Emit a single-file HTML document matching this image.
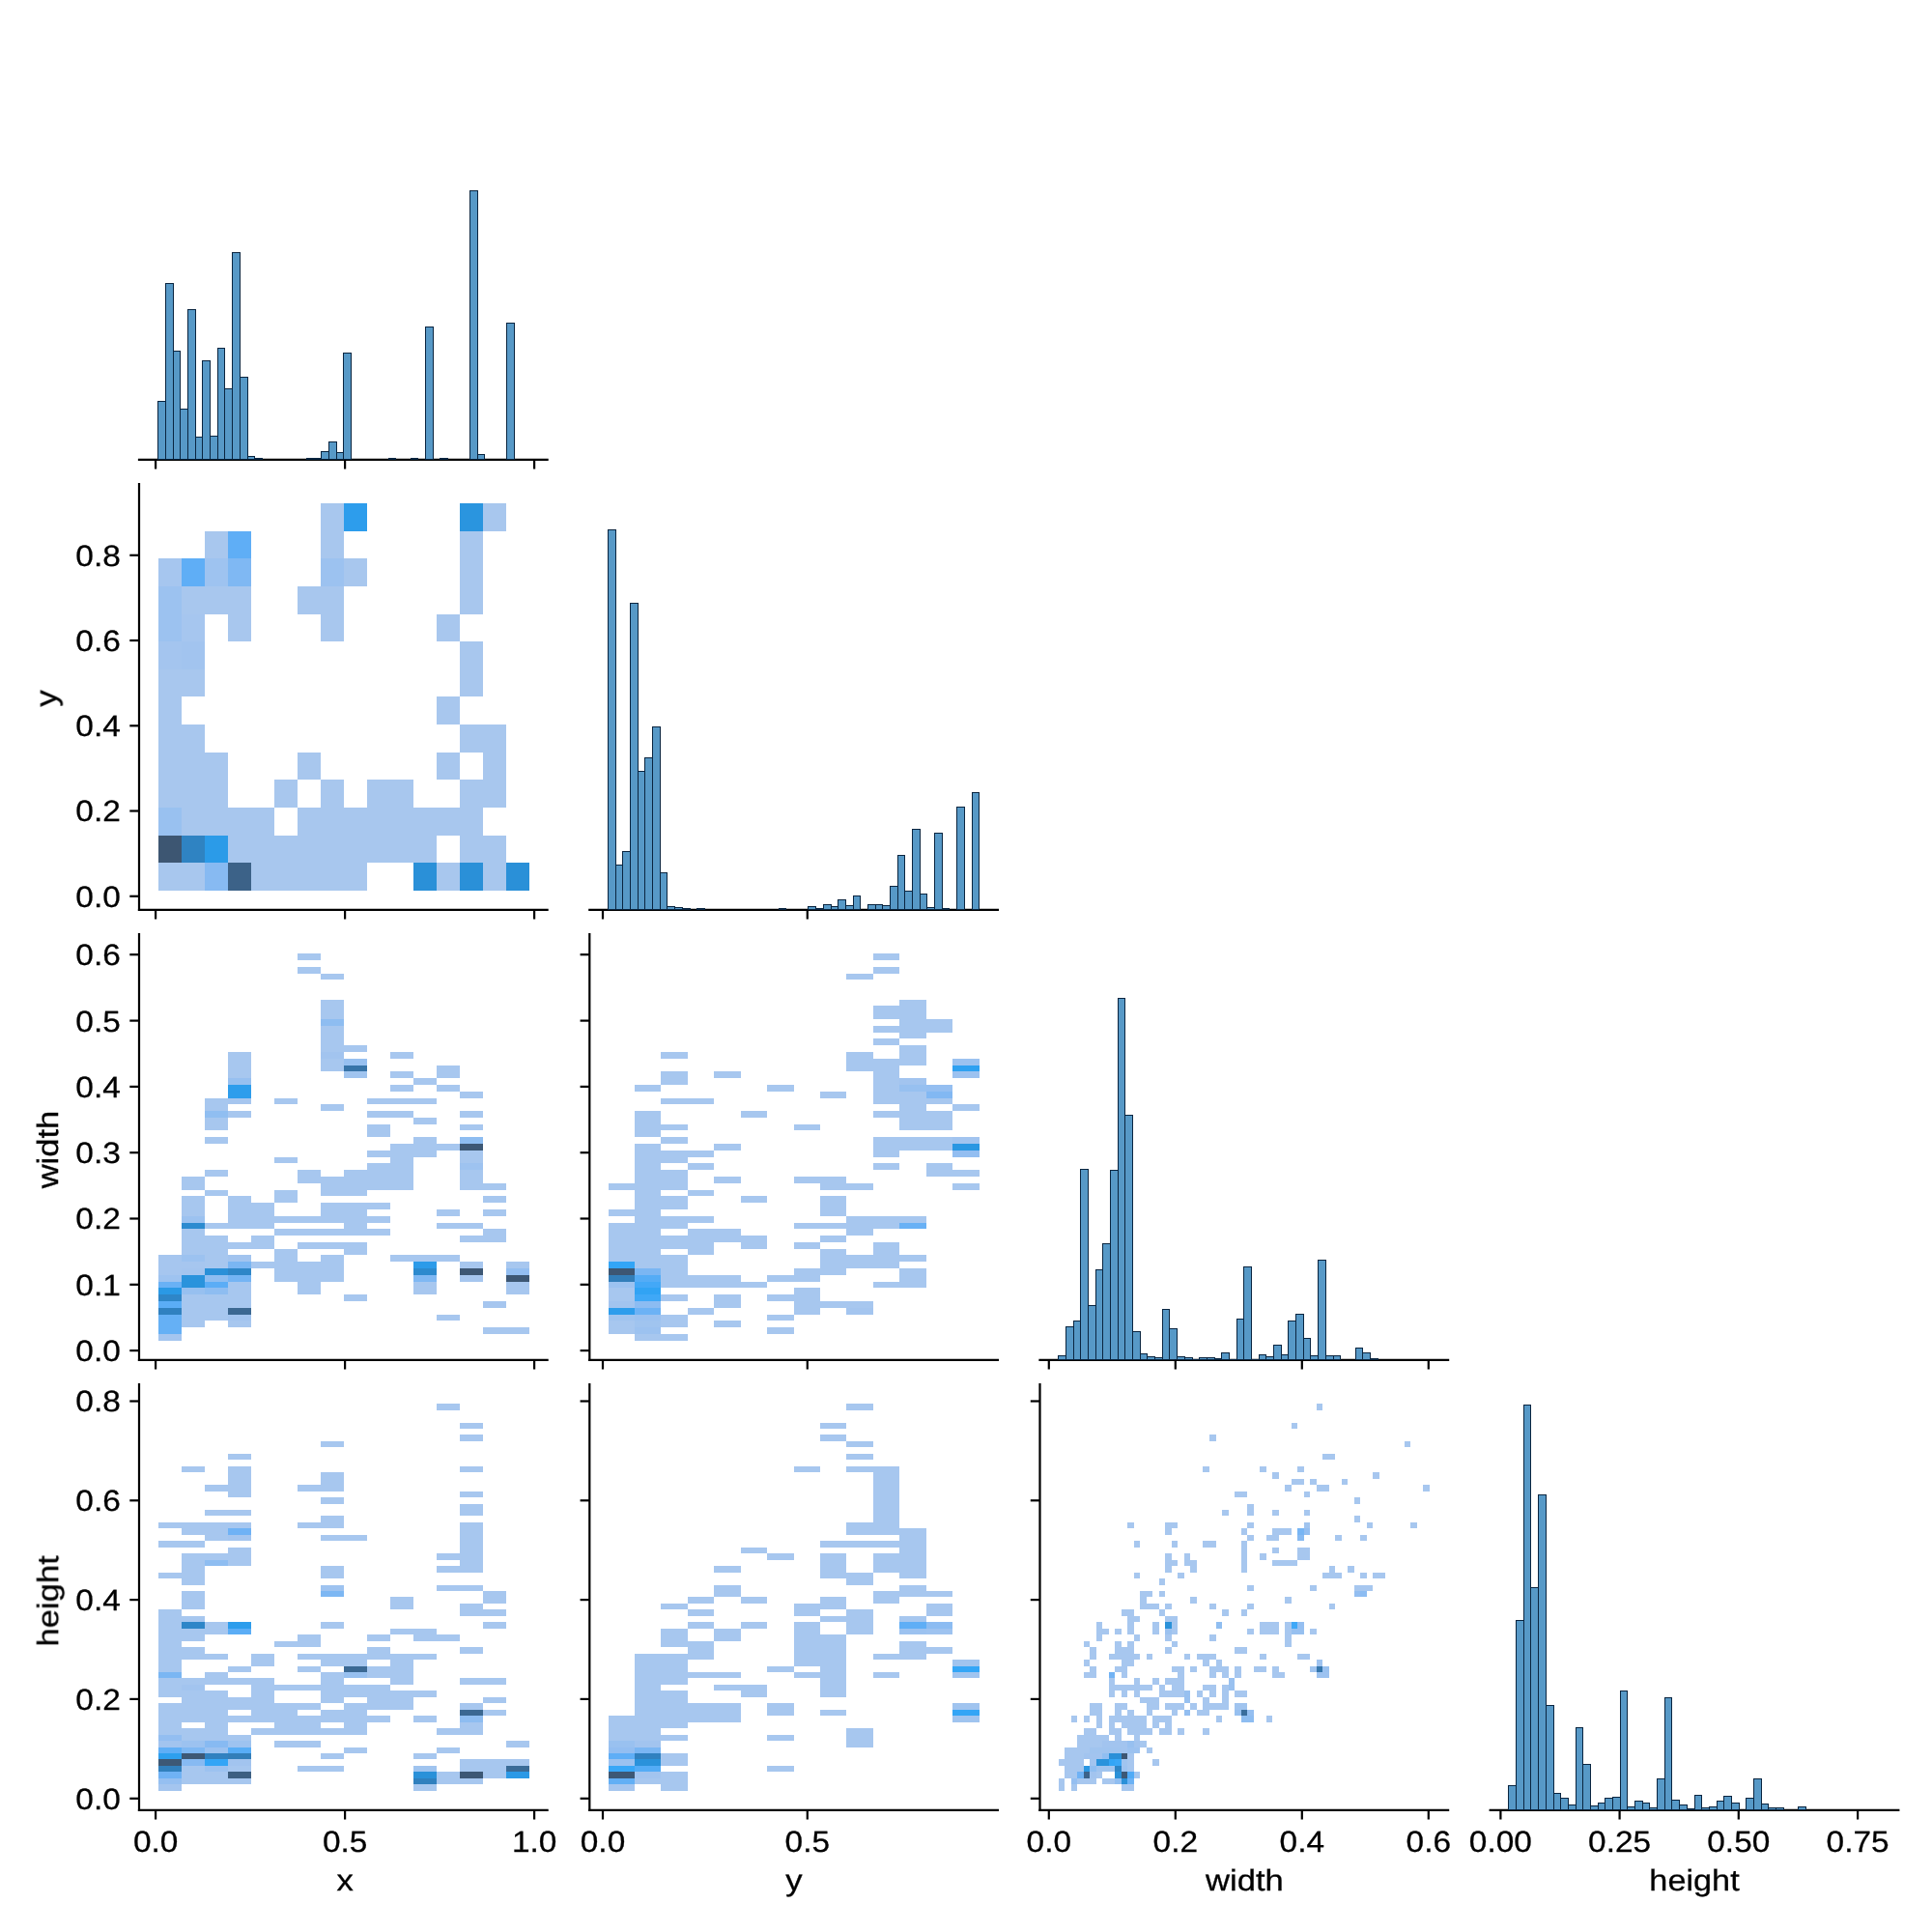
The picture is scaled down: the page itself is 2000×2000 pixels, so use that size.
<!DOCTYPE html><html><head><meta charset="utf-8"><title>pairplot</title>
<style>html,body{margin:0;padding:0;background:#fff}svg{display:block}text{font-family:"Liberation Sans",sans-serif;fill:#000;stroke:#000;stroke-width:0.3px;text-rendering:geometricPrecision}</style></head><body>
<svg xmlns="http://www.w3.org/2000/svg" width="2000" height="2000" viewBox="0 0 2000 2000">
<rect width="2000" height="2000" fill="#fff"/>
<g shape-rendering="crispEdges">
<rect x="163.81" y="893.15" width="24.01" height="28.62" fill="#a8c7ee"/>
<rect x="163.81" y="864.53" width="24.01" height="28.62" fill="#3d5672"/>
<rect x="163.81" y="835.92" width="24.01" height="28.62" fill="#99c1f0"/>
<rect x="163.81" y="692.83" width="24.01" height="143.08" fill="#a8c7ee"/>
<rect x="163.81" y="664.22" width="24.01" height="28.62" fill="#a4c5ef"/>
<rect x="163.81" y="606.98" width="24.01" height="57.23" fill="#9cc2f0"/>
<rect x="163.81" y="578.37" width="24.01" height="28.62" fill="#a6c6ef"/>
<rect x="187.82" y="893.15" width="24.01" height="28.62" fill="#a8c7ee"/>
<rect x="187.82" y="864.53" width="24.01" height="28.62" fill="#2f83c2"/>
<rect x="187.82" y="750.07" width="24.01" height="114.47" fill="#a8c7ee"/>
<rect x="187.82" y="692.83" width="24.01" height="28.62" fill="#a8c7ee"/>
<rect x="187.82" y="664.22" width="24.01" height="28.62" fill="#a2c4ef"/>
<rect x="187.82" y="635.60" width="24.01" height="28.62" fill="#a6c6ef"/>
<rect x="187.82" y="606.98" width="24.01" height="28.62" fill="#a8c7ee"/>
<rect x="187.82" y="578.37" width="24.01" height="28.62" fill="#5faef6"/>
<rect x="211.83" y="893.15" width="24.01" height="28.62" fill="#87baf2"/>
<rect x="211.83" y="864.53" width="24.01" height="28.62" fill="#2b9be8"/>
<rect x="211.83" y="778.68" width="24.01" height="85.85" fill="#a8c7ee"/>
<rect x="211.83" y="606.98" width="24.01" height="28.62" fill="#a8c7ee"/>
<rect x="211.83" y="578.37" width="24.01" height="28.62" fill="#9ec3f0"/>
<rect x="211.83" y="549.75" width="24.01" height="28.62" fill="#a8c7ee"/>
<rect x="235.84" y="893.15" width="24.01" height="28.62" fill="#3c6288"/>
<rect x="235.84" y="835.92" width="24.01" height="57.23" fill="#a8c7ee"/>
<rect x="235.84" y="606.98" width="24.01" height="57.23" fill="#a8c7ee"/>
<rect x="235.84" y="578.37" width="24.01" height="28.62" fill="#7fb8f3"/>
<rect x="235.84" y="549.75" width="24.01" height="28.62" fill="#5faef6"/>
<rect x="259.85" y="835.92" width="24.01" height="85.85" fill="#a8c7ee"/>
<rect x="283.87" y="864.53" width="24.01" height="57.23" fill="#a8c7ee"/>
<rect x="283.87" y="807.30" width="24.01" height="28.62" fill="#a8c7ee"/>
<rect x="307.88" y="835.92" width="24.01" height="85.85" fill="#a8c7ee"/>
<rect x="307.88" y="778.68" width="24.01" height="28.62" fill="#a8c7ee"/>
<rect x="307.88" y="606.98" width="24.01" height="28.62" fill="#a8c7ee"/>
<rect x="331.89" y="807.30" width="24.01" height="114.47" fill="#a8c7ee"/>
<rect x="331.89" y="606.98" width="24.01" height="57.23" fill="#a8c7ee"/>
<rect x="331.89" y="578.37" width="24.01" height="28.62" fill="#9cc2f0"/>
<rect x="331.89" y="521.13" width="24.01" height="57.23" fill="#a8c7ee"/>
<rect x="355.90" y="835.92" width="24.01" height="85.85" fill="#a8c7ee"/>
<rect x="355.90" y="578.37" width="24.01" height="28.62" fill="#a8c7ee"/>
<rect x="355.90" y="521.13" width="24.01" height="28.62" fill="#2d9dec"/>
<rect x="379.91" y="807.30" width="24.01" height="85.85" fill="#a8c7ee"/>
<rect x="403.92" y="807.30" width="24.01" height="85.85" fill="#a8c7ee"/>
<rect x="427.93" y="893.15" width="24.01" height="28.62" fill="#2a90d8"/>
<rect x="427.93" y="835.92" width="24.01" height="57.23" fill="#a8c7ee"/>
<rect x="451.95" y="893.15" width="24.01" height="28.62" fill="#a8c7ee"/>
<rect x="451.95" y="835.92" width="24.01" height="28.62" fill="#a8c7ee"/>
<rect x="451.95" y="778.68" width="24.01" height="28.62" fill="#a8c7ee"/>
<rect x="451.95" y="721.45" width="24.01" height="28.62" fill="#a8c7ee"/>
<rect x="451.95" y="635.60" width="24.01" height="28.62" fill="#a8c7ee"/>
<rect x="475.96" y="893.15" width="24.01" height="28.62" fill="#2a90d8"/>
<rect x="475.96" y="807.30" width="24.01" height="85.85" fill="#a8c7ee"/>
<rect x="475.96" y="750.07" width="24.01" height="28.62" fill="#a8c7ee"/>
<rect x="475.96" y="664.22" width="24.01" height="57.23" fill="#a8c7ee"/>
<rect x="475.96" y="549.75" width="24.01" height="85.85" fill="#a8c7ee"/>
<rect x="475.96" y="521.13" width="24.01" height="28.62" fill="#2a95df"/>
<rect x="499.97" y="864.53" width="24.01" height="57.23" fill="#a8c7ee"/>
<rect x="499.97" y="750.07" width="24.01" height="85.85" fill="#a8c7ee"/>
<rect x="499.97" y="521.13" width="24.01" height="28.62" fill="#a8c7ee"/>
<rect x="523.98" y="893.15" width="24.01" height="28.62" fill="#2a90d8"/>
<rect x="163.81" y="1380.98" width="24.01" height="6.79" fill="#a4c5ef"/>
<rect x="163.81" y="1360.61" width="24.01" height="20.37" fill="#65b0f5"/>
<rect x="163.81" y="1353.82" width="24.01" height="6.79" fill="#3081c0"/>
<rect x="163.81" y="1347.03" width="24.01" height="6.79" fill="#5badf6"/>
<rect x="163.81" y="1340.24" width="24.01" height="6.79" fill="#2e86c8"/>
<rect x="163.81" y="1333.44" width="24.01" height="6.79" fill="#2a99e5"/>
<rect x="163.81" y="1326.65" width="24.01" height="6.79" fill="#69b1f5"/>
<rect x="163.81" y="1319.86" width="24.01" height="6.79" fill="#9ec3f0"/>
<rect x="163.81" y="1299.49" width="24.01" height="20.37" fill="#a6c6ef"/>
<rect x="187.82" y="1340.24" width="24.01" height="33.95" fill="#a7c7ef"/>
<rect x="187.82" y="1333.44" width="24.01" height="6.79" fill="#97c0f0"/>
<rect x="187.82" y="1319.86" width="24.01" height="13.58" fill="#2a93dc"/>
<rect x="187.82" y="1313.07" width="24.01" height="6.79" fill="#a4c5ef"/>
<rect x="187.82" y="1306.28" width="24.01" height="6.79" fill="#a6c6ef"/>
<rect x="187.82" y="1299.49" width="24.01" height="6.79" fill="#9cc2f0"/>
<rect x="187.82" y="1272.33" width="24.01" height="27.16" fill="#a7c7ef"/>
<rect x="187.82" y="1265.54" width="24.01" height="6.79" fill="#2c8bd0"/>
<rect x="187.82" y="1258.75" width="24.01" height="6.79" fill="#9cc2f0"/>
<rect x="187.82" y="1238.38" width="24.01" height="20.37" fill="#a7c7ef"/>
<rect x="187.82" y="1218.01" width="24.01" height="13.58" fill="#a7c7ef"/>
<rect x="211.83" y="1340.24" width="24.01" height="27.16" fill="#a7c7ef"/>
<rect x="211.83" y="1333.44" width="24.01" height="6.79" fill="#8ebdf1"/>
<rect x="211.83" y="1326.65" width="24.01" height="6.79" fill="#5badf6"/>
<rect x="211.83" y="1319.86" width="24.01" height="6.79" fill="#8ebdf1"/>
<rect x="211.83" y="1313.07" width="24.01" height="6.79" fill="#2a90d8"/>
<rect x="211.83" y="1279.12" width="24.01" height="33.95" fill="#a7c7ef"/>
<rect x="211.83" y="1265.54" width="24.01" height="6.79" fill="#a7c7ef"/>
<rect x="211.83" y="1231.59" width="24.01" height="6.79" fill="#a7c7ef"/>
<rect x="211.83" y="1211.22" width="24.01" height="6.79" fill="#a7c7ef"/>
<rect x="211.83" y="1177.26" width="24.01" height="6.79" fill="#a7c7ef"/>
<rect x="211.83" y="1156.89" width="24.01" height="13.58" fill="#a7c7ef"/>
<rect x="211.83" y="1150.10" width="24.01" height="6.79" fill="#90bef1"/>
<rect x="211.83" y="1136.52" width="24.01" height="13.58" fill="#a7c7ef"/>
<rect x="235.84" y="1367.40" width="24.01" height="6.79" fill="#a7c7ef"/>
<rect x="235.84" y="1360.61" width="24.01" height="6.79" fill="#a2c4ef"/>
<rect x="235.84" y="1353.82" width="24.01" height="6.79" fill="#3b6892"/>
<rect x="235.84" y="1326.65" width="24.01" height="27.16" fill="#a7c7ef"/>
<rect x="235.84" y="1319.86" width="24.01" height="6.79" fill="#74b4f4"/>
<rect x="235.84" y="1313.07" width="24.01" height="6.79" fill="#2e86c8"/>
<rect x="235.84" y="1306.28" width="24.01" height="6.79" fill="#7ab6f3"/>
<rect x="235.84" y="1299.49" width="24.01" height="6.79" fill="#a2c4ef"/>
<rect x="235.84" y="1285.91" width="24.01" height="6.79" fill="#a7c7ef"/>
<rect x="235.84" y="1238.38" width="24.01" height="33.95" fill="#a7c7ef"/>
<rect x="235.84" y="1150.10" width="24.01" height="6.79" fill="#a7c7ef"/>
<rect x="235.84" y="1136.52" width="24.01" height="6.79" fill="#a6c6ef"/>
<rect x="235.84" y="1122.94" width="24.01" height="13.58" fill="#2d9dec"/>
<rect x="235.84" y="1116.15" width="24.01" height="6.79" fill="#97c0f0"/>
<rect x="235.84" y="1088.99" width="24.01" height="27.16" fill="#a7c7ef"/>
<rect x="259.85" y="1306.28" width="24.01" height="6.79" fill="#a7c7ef"/>
<rect x="259.85" y="1279.12" width="24.01" height="13.58" fill="#a7c7ef"/>
<rect x="259.85" y="1245.17" width="24.01" height="27.16" fill="#a7c7ef"/>
<rect x="283.87" y="1292.70" width="24.01" height="33.95" fill="#a7c7ef"/>
<rect x="283.87" y="1272.33" width="24.01" height="6.79" fill="#a7c7ef"/>
<rect x="283.87" y="1258.75" width="24.01" height="6.79" fill="#a7c7ef"/>
<rect x="283.87" y="1231.59" width="24.01" height="13.58" fill="#a7c7ef"/>
<rect x="283.87" y="1197.64" width="24.01" height="6.79" fill="#a7c7ef"/>
<rect x="283.87" y="1136.52" width="24.01" height="6.79" fill="#a7c7ef"/>
<rect x="307.88" y="1306.28" width="24.01" height="33.95" fill="#a7c7ef"/>
<rect x="307.88" y="1285.91" width="24.01" height="6.79" fill="#a7c7ef"/>
<rect x="307.88" y="1272.33" width="24.01" height="6.79" fill="#a7c7ef"/>
<rect x="307.88" y="1258.75" width="24.01" height="6.79" fill="#a7c7ef"/>
<rect x="307.88" y="1211.22" width="24.01" height="13.58" fill="#a7c7ef"/>
<rect x="307.88" y="1000.71" width="24.01" height="6.79" fill="#a7c7ef"/>
<rect x="307.88" y="987.13" width="24.01" height="6.79" fill="#a7c7ef"/>
<rect x="331.89" y="1299.49" width="24.01" height="27.16" fill="#a7c7ef"/>
<rect x="331.89" y="1285.91" width="24.01" height="6.79" fill="#a7c7ef"/>
<rect x="331.89" y="1272.33" width="24.01" height="6.79" fill="#a7c7ef"/>
<rect x="331.89" y="1245.17" width="24.01" height="20.37" fill="#a7c7ef"/>
<rect x="331.89" y="1218.01" width="24.01" height="20.37" fill="#a7c7ef"/>
<rect x="331.89" y="1143.31" width="24.01" height="6.79" fill="#a7c7ef"/>
<rect x="331.89" y="1095.78" width="24.01" height="13.58" fill="#a7c7ef"/>
<rect x="331.89" y="1088.99" width="24.01" height="6.79" fill="#a2c4ef"/>
<rect x="331.89" y="1061.83" width="24.01" height="27.16" fill="#a7c7ef"/>
<rect x="331.89" y="1055.04" width="24.01" height="6.79" fill="#8ebdf1"/>
<rect x="331.89" y="1034.66" width="24.01" height="20.37" fill="#a7c7ef"/>
<rect x="331.89" y="1007.50" width="24.01" height="6.79" fill="#a7c7ef"/>
<rect x="355.90" y="1340.24" width="24.01" height="6.79" fill="#a7c7ef"/>
<rect x="355.90" y="1285.91" width="24.01" height="13.58" fill="#a7c7ef"/>
<rect x="355.90" y="1245.17" width="24.01" height="33.95" fill="#a7c7ef"/>
<rect x="355.90" y="1211.22" width="24.01" height="27.16" fill="#a7c7ef"/>
<rect x="355.90" y="1109.36" width="24.01" height="6.79" fill="#a0c4ef"/>
<rect x="355.90" y="1102.57" width="24.01" height="6.79" fill="#3774a8"/>
<rect x="355.90" y="1095.78" width="24.01" height="6.79" fill="#97c0f0"/>
<rect x="355.90" y="1082.20" width="24.01" height="6.79" fill="#a7c7ef"/>
<rect x="379.91" y="1272.33" width="24.01" height="6.79" fill="#a7c7ef"/>
<rect x="379.91" y="1258.75" width="24.01" height="6.79" fill="#a7c7ef"/>
<rect x="379.91" y="1245.17" width="24.01" height="6.79" fill="#a7c7ef"/>
<rect x="379.91" y="1204.43" width="24.01" height="27.16" fill="#a7c7ef"/>
<rect x="379.91" y="1190.85" width="24.01" height="6.79" fill="#a7c7ef"/>
<rect x="379.91" y="1163.68" width="24.01" height="13.58" fill="#a7c7ef"/>
<rect x="379.91" y="1150.10" width="24.01" height="6.79" fill="#a7c7ef"/>
<rect x="379.91" y="1136.52" width="24.01" height="6.79" fill="#a7c7ef"/>
<rect x="403.92" y="1299.49" width="24.01" height="6.79" fill="#a7c7ef"/>
<rect x="403.92" y="1184.05" width="24.01" height="47.53" fill="#a7c7ef"/>
<rect x="403.92" y="1150.10" width="24.01" height="6.79" fill="#a7c7ef"/>
<rect x="403.92" y="1136.52" width="24.01" height="6.79" fill="#a7c7ef"/>
<rect x="403.92" y="1122.94" width="24.01" height="6.79" fill="#a7c7ef"/>
<rect x="403.92" y="1109.36" width="24.01" height="6.79" fill="#a7c7ef"/>
<rect x="403.92" y="1088.99" width="24.01" height="6.79" fill="#a7c7ef"/>
<rect x="427.93" y="1326.65" width="24.01" height="13.58" fill="#a7c7ef"/>
<rect x="427.93" y="1319.86" width="24.01" height="6.79" fill="#7fb8f3"/>
<rect x="427.93" y="1313.07" width="24.01" height="6.79" fill="#2c8ace"/>
<rect x="427.93" y="1306.28" width="24.01" height="6.79" fill="#2c9be9"/>
<rect x="427.93" y="1299.49" width="24.01" height="6.79" fill="#a7c7ef"/>
<rect x="427.93" y="1177.26" width="24.01" height="20.37" fill="#a7c7ef"/>
<rect x="427.93" y="1156.89" width="24.01" height="6.79" fill="#a7c7ef"/>
<rect x="427.93" y="1136.52" width="24.01" height="6.79" fill="#a7c7ef"/>
<rect x="427.93" y="1116.15" width="24.01" height="6.79" fill="#a7c7ef"/>
<rect x="451.95" y="1360.61" width="24.01" height="6.79" fill="#a7c7ef"/>
<rect x="451.95" y="1299.49" width="24.01" height="6.79" fill="#a7c7ef"/>
<rect x="451.95" y="1265.54" width="24.01" height="6.79" fill="#a7c7ef"/>
<rect x="451.95" y="1251.96" width="24.01" height="6.79" fill="#a7c7ef"/>
<rect x="451.95" y="1184.05" width="24.01" height="6.79" fill="#a7c7ef"/>
<rect x="451.95" y="1122.94" width="24.01" height="6.79" fill="#a7c7ef"/>
<rect x="451.95" y="1102.57" width="24.01" height="13.58" fill="#a7c7ef"/>
<rect x="475.96" y="1319.86" width="24.01" height="6.79" fill="#a6c6ef"/>
<rect x="475.96" y="1313.07" width="24.01" height="6.79" fill="#3d5774"/>
<rect x="475.96" y="1306.28" width="24.01" height="6.79" fill="#a7c7ef"/>
<rect x="475.96" y="1279.12" width="24.01" height="6.79" fill="#a7c7ef"/>
<rect x="475.96" y="1265.54" width="24.01" height="6.79" fill="#a7c7ef"/>
<rect x="475.96" y="1211.22" width="24.01" height="20.37" fill="#a7c7ef"/>
<rect x="475.96" y="1204.43" width="24.01" height="6.79" fill="#9ec3f0"/>
<rect x="475.96" y="1190.85" width="24.01" height="13.58" fill="#a7c7ef"/>
<rect x="475.96" y="1184.05" width="24.01" height="6.79" fill="#3d5875"/>
<rect x="475.96" y="1177.26" width="24.01" height="6.79" fill="#8ebdf1"/>
<rect x="475.96" y="1163.68" width="24.01" height="6.79" fill="#a7c7ef"/>
<rect x="475.96" y="1150.10" width="24.01" height="6.79" fill="#a7c7ef"/>
<rect x="475.96" y="1129.73" width="24.01" height="6.79" fill="#a7c7ef"/>
<rect x="499.97" y="1374.19" width="24.01" height="6.79" fill="#a7c7ef"/>
<rect x="499.97" y="1347.03" width="24.01" height="6.79" fill="#a6c6ef"/>
<rect x="499.97" y="1272.33" width="24.01" height="13.58" fill="#a7c7ef"/>
<rect x="499.97" y="1251.96" width="24.01" height="6.79" fill="#a7c7ef"/>
<rect x="499.97" y="1238.38" width="24.01" height="6.79" fill="#a7c7ef"/>
<rect x="499.97" y="1224.80" width="24.01" height="6.79" fill="#a7c7ef"/>
<rect x="523.98" y="1374.19" width="24.01" height="6.79" fill="#a7c7ef"/>
<rect x="523.98" y="1326.65" width="24.01" height="13.58" fill="#a7c7ef"/>
<rect x="523.98" y="1319.86" width="24.01" height="6.79" fill="#3d5774"/>
<rect x="523.98" y="1313.07" width="24.01" height="6.79" fill="#93bef1"/>
<rect x="523.98" y="1306.28" width="24.01" height="6.79" fill="#a7c7ef"/>
<rect x="629.51" y="1367.40" width="27.44" height="13.58" fill="#a7c7ef"/>
<rect x="629.51" y="1360.61" width="27.44" height="6.79" fill="#a0c4ef"/>
<rect x="629.51" y="1353.82" width="27.44" height="6.79" fill="#2d9dec"/>
<rect x="629.51" y="1347.03" width="27.44" height="6.79" fill="#a2c4ef"/>
<rect x="629.51" y="1333.44" width="27.44" height="13.58" fill="#a7c7ef"/>
<rect x="629.51" y="1326.65" width="27.44" height="6.79" fill="#9cc2f0"/>
<rect x="629.51" y="1319.86" width="27.44" height="6.79" fill="#327eb9"/>
<rect x="629.51" y="1313.07" width="27.44" height="6.79" fill="#3d5672"/>
<rect x="629.51" y="1306.28" width="27.44" height="6.79" fill="#33a5f6"/>
<rect x="629.51" y="1265.54" width="27.44" height="40.74" fill="#a7c7ef"/>
<rect x="629.51" y="1251.96" width="27.44" height="6.79" fill="#a7c7ef"/>
<rect x="629.51" y="1224.80" width="27.44" height="6.79" fill="#a7c7ef"/>
<rect x="656.95" y="1380.98" width="27.44" height="6.79" fill="#a7c7ef"/>
<rect x="656.95" y="1374.19" width="27.44" height="6.79" fill="#9cc2f0"/>
<rect x="656.95" y="1367.40" width="27.44" height="6.79" fill="#a0c4ef"/>
<rect x="656.95" y="1360.61" width="27.44" height="6.79" fill="#9cc2f0"/>
<rect x="656.95" y="1353.82" width="27.44" height="6.79" fill="#6cb2f5"/>
<rect x="656.95" y="1347.03" width="27.44" height="6.79" fill="#8cbcf2"/>
<rect x="656.95" y="1340.24" width="27.44" height="6.79" fill="#3fa8f7"/>
<rect x="656.95" y="1333.44" width="27.44" height="6.79" fill="#31a3f4"/>
<rect x="656.95" y="1326.65" width="27.44" height="6.79" fill="#43a8f7"/>
<rect x="656.95" y="1319.86" width="27.44" height="6.79" fill="#54acf6"/>
<rect x="656.95" y="1313.07" width="27.44" height="6.79" fill="#7ab6f3"/>
<rect x="656.95" y="1184.05" width="27.44" height="129.02" fill="#a7c7ef"/>
<rect x="656.95" y="1150.10" width="27.44" height="27.16" fill="#a7c7ef"/>
<rect x="656.95" y="1122.94" width="27.44" height="6.79" fill="#a7c7ef"/>
<rect x="684.39" y="1380.98" width="27.44" height="6.79" fill="#a7c7ef"/>
<rect x="684.39" y="1360.61" width="27.44" height="13.58" fill="#a7c7ef"/>
<rect x="684.39" y="1340.24" width="27.44" height="6.79" fill="#a7c7ef"/>
<rect x="684.39" y="1299.49" width="27.44" height="33.95" fill="#a7c7ef"/>
<rect x="684.39" y="1279.12" width="27.44" height="13.58" fill="#a7c7ef"/>
<rect x="684.39" y="1258.75" width="27.44" height="13.58" fill="#a7c7ef"/>
<rect x="684.39" y="1238.38" width="27.44" height="13.58" fill="#a7c7ef"/>
<rect x="684.39" y="1211.22" width="27.44" height="20.37" fill="#a7c7ef"/>
<rect x="684.39" y="1190.85" width="27.44" height="13.58" fill="#a7c7ef"/>
<rect x="684.39" y="1177.26" width="27.44" height="6.79" fill="#a7c7ef"/>
<rect x="684.39" y="1163.68" width="27.44" height="6.79" fill="#a7c7ef"/>
<rect x="684.39" y="1136.52" width="27.44" height="6.79" fill="#a7c7ef"/>
<rect x="684.39" y="1109.36" width="27.44" height="13.58" fill="#a7c7ef"/>
<rect x="684.39" y="1088.99" width="27.44" height="6.79" fill="#a7c7ef"/>
<rect x="711.83" y="1353.82" width="27.44" height="6.79" fill="#a7c7ef"/>
<rect x="711.83" y="1319.86" width="27.44" height="13.58" fill="#a7c7ef"/>
<rect x="711.83" y="1272.33" width="27.44" height="27.16" fill="#a7c7ef"/>
<rect x="711.83" y="1258.75" width="27.44" height="6.79" fill="#a7c7ef"/>
<rect x="711.83" y="1231.59" width="27.44" height="6.79" fill="#a7c7ef"/>
<rect x="711.83" y="1204.43" width="27.44" height="6.79" fill="#a7c7ef"/>
<rect x="711.83" y="1190.85" width="27.44" height="6.79" fill="#a7c7ef"/>
<rect x="711.83" y="1136.52" width="27.44" height="6.79" fill="#a7c7ef"/>
<rect x="739.28" y="1367.40" width="27.44" height="6.79" fill="#a7c7ef"/>
<rect x="739.28" y="1340.24" width="27.44" height="13.58" fill="#a7c7ef"/>
<rect x="739.28" y="1319.86" width="27.44" height="13.58" fill="#a7c7ef"/>
<rect x="739.28" y="1272.33" width="27.44" height="13.58" fill="#a7c7ef"/>
<rect x="739.28" y="1218.01" width="27.44" height="6.79" fill="#a7c7ef"/>
<rect x="739.28" y="1184.05" width="27.44" height="6.79" fill="#a7c7ef"/>
<rect x="739.28" y="1109.36" width="27.44" height="6.79" fill="#a7c7ef"/>
<rect x="766.72" y="1326.65" width="27.44" height="6.79" fill="#a7c7ef"/>
<rect x="766.72" y="1279.12" width="27.44" height="13.58" fill="#a7c7ef"/>
<rect x="766.72" y="1238.38" width="27.44" height="6.79" fill="#a7c7ef"/>
<rect x="766.72" y="1150.10" width="27.44" height="6.79" fill="#a7c7ef"/>
<rect x="794.16" y="1374.19" width="27.44" height="6.79" fill="#a7c7ef"/>
<rect x="794.16" y="1360.61" width="27.44" height="6.79" fill="#a7c7ef"/>
<rect x="794.16" y="1340.24" width="27.44" height="6.79" fill="#a7c7ef"/>
<rect x="794.16" y="1319.86" width="27.44" height="6.79" fill="#a7c7ef"/>
<rect x="794.16" y="1122.94" width="27.44" height="6.79" fill="#a7c7ef"/>
<rect x="821.60" y="1333.44" width="27.44" height="27.16" fill="#a7c7ef"/>
<rect x="821.60" y="1313.07" width="27.44" height="13.58" fill="#a7c7ef"/>
<rect x="821.60" y="1285.91" width="27.44" height="6.79" fill="#a7c7ef"/>
<rect x="821.60" y="1265.54" width="27.44" height="6.79" fill="#a7c7ef"/>
<rect x="821.60" y="1218.01" width="27.44" height="6.79" fill="#a7c7ef"/>
<rect x="821.60" y="1163.68" width="27.44" height="6.79" fill="#a7c7ef"/>
<rect x="849.04" y="1347.03" width="27.44" height="6.79" fill="#a7c7ef"/>
<rect x="849.04" y="1292.70" width="27.44" height="27.16" fill="#a7c7ef"/>
<rect x="849.04" y="1279.12" width="27.44" height="6.79" fill="#a7c7ef"/>
<rect x="849.04" y="1265.54" width="27.44" height="6.79" fill="#a7c7ef"/>
<rect x="849.04" y="1238.38" width="27.44" height="20.37" fill="#a7c7ef"/>
<rect x="849.04" y="1218.01" width="27.44" height="13.58" fill="#a7c7ef"/>
<rect x="849.04" y="1129.73" width="27.44" height="6.79" fill="#a7c7ef"/>
<rect x="876.48" y="1353.82" width="27.44" height="6.79" fill="#a4c5ef"/>
<rect x="876.48" y="1347.03" width="27.44" height="6.79" fill="#a7c7ef"/>
<rect x="876.48" y="1299.49" width="27.44" height="13.58" fill="#a7c7ef"/>
<rect x="876.48" y="1258.75" width="27.44" height="20.37" fill="#a7c7ef"/>
<rect x="876.48" y="1224.80" width="27.44" height="6.79" fill="#a7c7ef"/>
<rect x="876.48" y="1088.99" width="27.44" height="20.37" fill="#a7c7ef"/>
<rect x="876.48" y="1007.50" width="27.44" height="6.79" fill="#a7c7ef"/>
<rect x="903.92" y="1326.65" width="27.44" height="6.79" fill="#a7c7ef"/>
<rect x="903.92" y="1285.91" width="27.44" height="27.16" fill="#a7c7ef"/>
<rect x="903.92" y="1258.75" width="27.44" height="13.58" fill="#a7c7ef"/>
<rect x="903.92" y="1204.43" width="27.44" height="6.79" fill="#a7c7ef"/>
<rect x="903.92" y="1177.26" width="27.44" height="20.37" fill="#a7c7ef"/>
<rect x="903.92" y="1150.10" width="27.44" height="6.79" fill="#a7c7ef"/>
<rect x="903.92" y="1095.78" width="27.44" height="47.53" fill="#a7c7ef"/>
<rect x="903.92" y="1075.41" width="27.44" height="6.79" fill="#a7c7ef"/>
<rect x="903.92" y="1061.83" width="27.44" height="6.79" fill="#a7c7ef"/>
<rect x="903.92" y="1041.46" width="27.44" height="13.58" fill="#a7c7ef"/>
<rect x="903.92" y="1000.71" width="27.44" height="6.79" fill="#a7c7ef"/>
<rect x="903.92" y="987.13" width="27.44" height="6.79" fill="#a7c7ef"/>
<rect x="931.37" y="1313.07" width="27.44" height="20.37" fill="#a7c7ef"/>
<rect x="931.37" y="1299.49" width="27.44" height="6.79" fill="#a7c7ef"/>
<rect x="931.37" y="1265.54" width="27.44" height="6.79" fill="#69b1f5"/>
<rect x="931.37" y="1258.75" width="27.44" height="6.79" fill="#a7c7ef"/>
<rect x="931.37" y="1177.26" width="27.44" height="13.58" fill="#a7c7ef"/>
<rect x="931.37" y="1129.73" width="27.44" height="40.74" fill="#a7c7ef"/>
<rect x="931.37" y="1122.94" width="27.44" height="6.79" fill="#97c0f0"/>
<rect x="931.37" y="1116.15" width="27.44" height="6.79" fill="#a2c4ef"/>
<rect x="931.37" y="1082.20" width="27.44" height="20.37" fill="#a7c7ef"/>
<rect x="931.37" y="1034.66" width="27.44" height="40.74" fill="#a7c7ef"/>
<rect x="958.81" y="1204.43" width="27.44" height="13.58" fill="#a7c7ef"/>
<rect x="958.81" y="1177.26" width="27.44" height="13.58" fill="#a7c7ef"/>
<rect x="958.81" y="1150.10" width="27.44" height="20.37" fill="#a7c7ef"/>
<rect x="958.81" y="1136.52" width="27.44" height="6.79" fill="#a7c7ef"/>
<rect x="958.81" y="1129.73" width="27.44" height="6.79" fill="#82b8f3"/>
<rect x="958.81" y="1122.94" width="27.44" height="6.79" fill="#95bff1"/>
<rect x="958.81" y="1055.04" width="27.44" height="13.58" fill="#a7c7ef"/>
<rect x="986.25" y="1224.80" width="27.44" height="6.79" fill="#a7c7ef"/>
<rect x="986.25" y="1211.22" width="27.44" height="6.79" fill="#a7c7ef"/>
<rect x="986.25" y="1190.85" width="27.44" height="6.79" fill="#93bef1"/>
<rect x="986.25" y="1184.05" width="27.44" height="6.79" fill="#2a97e2"/>
<rect x="986.25" y="1177.26" width="27.44" height="6.79" fill="#a2c4ef"/>
<rect x="986.25" y="1143.31" width="27.44" height="6.79" fill="#a7c7ef"/>
<rect x="986.25" y="1109.36" width="27.44" height="6.79" fill="#9cc2f0"/>
<rect x="986.25" y="1102.57" width="27.44" height="6.79" fill="#2fa1f1"/>
<rect x="986.25" y="1095.78" width="27.44" height="6.79" fill="#9cc2f0"/>
<rect x="163.81" y="1847.31" width="24.01" height="6.46" fill="#a4c5ef"/>
<rect x="163.81" y="1840.84" width="24.01" height="6.46" fill="#95bff1"/>
<rect x="163.81" y="1834.38" width="24.01" height="6.46" fill="#6fb2f5"/>
<rect x="163.81" y="1827.92" width="24.01" height="6.46" fill="#3180bd"/>
<rect x="163.81" y="1821.46" width="24.01" height="6.46" fill="#3d5875"/>
<rect x="163.81" y="1815.00" width="24.01" height="6.46" fill="#2e9fee"/>
<rect x="163.81" y="1808.54" width="24.01" height="6.46" fill="#5faef6"/>
<rect x="163.81" y="1802.07" width="24.01" height="6.46" fill="#a2c4ef"/>
<rect x="163.81" y="1795.61" width="24.01" height="6.46" fill="#93bef1"/>
<rect x="163.81" y="1763.30" width="24.01" height="32.31" fill="#a7c7ef"/>
<rect x="163.81" y="1737.45" width="24.01" height="19.39" fill="#a7c7ef"/>
<rect x="163.81" y="1730.99" width="24.01" height="6.46" fill="#7ab6f3"/>
<rect x="163.81" y="1666.37" width="24.01" height="64.62" fill="#a7c7ef"/>
<rect x="163.81" y="1627.60" width="24.01" height="6.46" fill="#a7c7ef"/>
<rect x="163.81" y="1595.29" width="24.01" height="6.46" fill="#a7c7ef"/>
<rect x="163.81" y="1575.91" width="24.01" height="6.46" fill="#a7c7ef"/>
<rect x="187.82" y="1827.92" width="24.01" height="19.39" fill="#a7c7ef"/>
<rect x="187.82" y="1821.46" width="24.01" height="6.46" fill="#87baf2"/>
<rect x="187.82" y="1815.00" width="24.01" height="6.46" fill="#3d5875"/>
<rect x="187.82" y="1808.54" width="24.01" height="6.46" fill="#7fb8f3"/>
<rect x="187.82" y="1802.07" width="24.01" height="6.46" fill="#9cc2f0"/>
<rect x="187.82" y="1789.15" width="24.01" height="12.92" fill="#a7c7ef"/>
<rect x="187.82" y="1750.38" width="24.01" height="32.31" fill="#a7c7ef"/>
<rect x="187.82" y="1743.92" width="24.01" height="6.46" fill="#a2c4ef"/>
<rect x="187.82" y="1737.45" width="24.01" height="6.46" fill="#a7c7ef"/>
<rect x="187.82" y="1705.15" width="24.01" height="12.92" fill="#a7c7ef"/>
<rect x="187.82" y="1685.76" width="24.01" height="12.92" fill="#a7c7ef"/>
<rect x="187.82" y="1679.30" width="24.01" height="6.46" fill="#2e86c8"/>
<rect x="187.82" y="1672.84" width="24.01" height="6.46" fill="#a7c7ef"/>
<rect x="187.82" y="1646.99" width="24.01" height="19.39" fill="#a7c7ef"/>
<rect x="187.82" y="1608.22" width="24.01" height="32.31" fill="#a7c7ef"/>
<rect x="187.82" y="1595.29" width="24.01" height="6.46" fill="#a7c7ef"/>
<rect x="187.82" y="1575.91" width="24.01" height="12.92" fill="#a7c7ef"/>
<rect x="187.82" y="1517.75" width="24.01" height="6.46" fill="#a7c7ef"/>
<rect x="211.83" y="1834.38" width="24.01" height="12.92" fill="#a7c7ef"/>
<rect x="211.83" y="1827.92" width="24.01" height="6.46" fill="#9cc2f0"/>
<rect x="211.83" y="1821.46" width="24.01" height="6.46" fill="#33a5f6"/>
<rect x="211.83" y="1815.00" width="24.01" height="6.46" fill="#3081c0"/>
<rect x="211.83" y="1808.54" width="24.01" height="6.46" fill="#9cc2f0"/>
<rect x="211.83" y="1802.07" width="24.01" height="6.46" fill="#87baf2"/>
<rect x="211.83" y="1750.38" width="24.01" height="51.70" fill="#a7c7ef"/>
<rect x="211.83" y="1730.99" width="24.01" height="12.92" fill="#a7c7ef"/>
<rect x="211.83" y="1711.61" width="24.01" height="6.46" fill="#a7c7ef"/>
<rect x="211.83" y="1679.30" width="24.01" height="12.92" fill="#a7c7ef"/>
<rect x="211.83" y="1614.68" width="24.01" height="6.46" fill="#8ebdf1"/>
<rect x="211.83" y="1608.22" width="24.01" height="6.46" fill="#a7c7ef"/>
<rect x="211.83" y="1575.91" width="24.01" height="19.39" fill="#a7c7ef"/>
<rect x="211.83" y="1562.98" width="24.01" height="6.46" fill="#a7c7ef"/>
<rect x="211.83" y="1537.14" width="24.01" height="6.46" fill="#a7c7ef"/>
<rect x="235.84" y="1840.84" width="24.01" height="6.46" fill="#a7c7ef"/>
<rect x="235.84" y="1834.38" width="24.01" height="6.46" fill="#3d5f81"/>
<rect x="235.84" y="1827.92" width="24.01" height="6.46" fill="#a7c7ef"/>
<rect x="235.84" y="1821.46" width="24.01" height="6.46" fill="#a2c4ef"/>
<rect x="235.84" y="1815.00" width="24.01" height="6.46" fill="#327eb9"/>
<rect x="235.84" y="1808.54" width="24.01" height="6.46" fill="#58adf6"/>
<rect x="235.84" y="1802.07" width="24.01" height="6.46" fill="#9ec3f0"/>
<rect x="235.84" y="1795.61" width="24.01" height="6.46" fill="#a7c7ef"/>
<rect x="235.84" y="1776.23" width="24.01" height="6.46" fill="#a7c7ef"/>
<rect x="235.84" y="1756.84" width="24.01" height="12.92" fill="#a7c7ef"/>
<rect x="235.84" y="1737.45" width="24.01" height="6.46" fill="#a7c7ef"/>
<rect x="235.84" y="1724.53" width="24.01" height="6.46" fill="#a7c7ef"/>
<rect x="235.84" y="1685.76" width="24.01" height="6.46" fill="#5badf6"/>
<rect x="235.84" y="1679.30" width="24.01" height="6.46" fill="#2d9dec"/>
<rect x="235.84" y="1601.75" width="24.01" height="19.39" fill="#a7c7ef"/>
<rect x="235.84" y="1588.83" width="24.01" height="6.46" fill="#a4c5ef"/>
<rect x="235.84" y="1582.37" width="24.01" height="6.46" fill="#6fb2f5"/>
<rect x="235.84" y="1575.91" width="24.01" height="6.46" fill="#a7c7ef"/>
<rect x="235.84" y="1562.98" width="24.01" height="6.46" fill="#a7c7ef"/>
<rect x="235.84" y="1517.75" width="24.01" height="32.31" fill="#a7c7ef"/>
<rect x="235.84" y="1504.83" width="24.01" height="6.46" fill="#a7c7ef"/>
<rect x="259.85" y="1789.15" width="24.01" height="6.46" fill="#a7c7ef"/>
<rect x="259.85" y="1737.45" width="24.01" height="45.23" fill="#a7c7ef"/>
<rect x="259.85" y="1711.61" width="24.01" height="12.92" fill="#a7c7ef"/>
<rect x="283.87" y="1802.07" width="24.01" height="6.46" fill="#a7c7ef"/>
<rect x="283.87" y="1763.30" width="24.01" height="32.31" fill="#a7c7ef"/>
<rect x="283.87" y="1743.92" width="24.01" height="6.46" fill="#a7c7ef"/>
<rect x="283.87" y="1698.68" width="24.01" height="6.46" fill="#a7c7ef"/>
<rect x="307.88" y="1827.92" width="24.01" height="6.46" fill="#a7c7ef"/>
<rect x="307.88" y="1802.07" width="24.01" height="6.46" fill="#a7c7ef"/>
<rect x="307.88" y="1776.23" width="24.01" height="19.39" fill="#a7c7ef"/>
<rect x="307.88" y="1763.30" width="24.01" height="6.46" fill="#a7c7ef"/>
<rect x="307.88" y="1743.92" width="24.01" height="6.46" fill="#a7c7ef"/>
<rect x="307.88" y="1724.53" width="24.01" height="6.46" fill="#a7c7ef"/>
<rect x="307.88" y="1711.61" width="24.01" height="6.46" fill="#a7c7ef"/>
<rect x="307.88" y="1692.22" width="24.01" height="12.92" fill="#a7c7ef"/>
<rect x="307.88" y="1575.91" width="24.01" height="6.46" fill="#a7c7ef"/>
<rect x="307.88" y="1537.14" width="24.01" height="6.46" fill="#a7c7ef"/>
<rect x="331.89" y="1827.92" width="24.01" height="6.46" fill="#a7c7ef"/>
<rect x="331.89" y="1815.00" width="24.01" height="6.46" fill="#a7c7ef"/>
<rect x="331.89" y="1789.15" width="24.01" height="6.46" fill="#a7c7ef"/>
<rect x="331.89" y="1769.76" width="24.01" height="12.92" fill="#a7c7ef"/>
<rect x="331.89" y="1730.99" width="24.01" height="32.31" fill="#a7c7ef"/>
<rect x="331.89" y="1711.61" width="24.01" height="12.92" fill="#a7c7ef"/>
<rect x="331.89" y="1679.30" width="24.01" height="6.46" fill="#a7c7ef"/>
<rect x="331.89" y="1646.99" width="24.01" height="6.46" fill="#7db7f3"/>
<rect x="331.89" y="1640.53" width="24.01" height="6.46" fill="#9ec3f0"/>
<rect x="331.89" y="1621.14" width="24.01" height="12.92" fill="#a7c7ef"/>
<rect x="331.89" y="1588.83" width="24.01" height="6.46" fill="#a7c7ef"/>
<rect x="331.89" y="1569.45" width="24.01" height="12.92" fill="#a7c7ef"/>
<rect x="331.89" y="1550.06" width="24.01" height="6.46" fill="#a7c7ef"/>
<rect x="331.89" y="1524.21" width="24.01" height="19.39" fill="#a7c7ef"/>
<rect x="331.89" y="1491.90" width="24.01" height="6.46" fill="#a7c7ef"/>
<rect x="355.90" y="1808.54" width="24.01" height="6.46" fill="#a7c7ef"/>
<rect x="355.90" y="1763.30" width="24.01" height="32.31" fill="#a7c7ef"/>
<rect x="355.90" y="1743.92" width="24.01" height="12.92" fill="#a7c7ef"/>
<rect x="355.90" y="1730.99" width="24.01" height="6.46" fill="#97c0f0"/>
<rect x="355.90" y="1724.53" width="24.01" height="6.46" fill="#3b6994"/>
<rect x="355.90" y="1711.61" width="24.01" height="12.92" fill="#a7c7ef"/>
<rect x="355.90" y="1588.83" width="24.01" height="6.46" fill="#a7c7ef"/>
<rect x="379.91" y="1776.23" width="24.01" height="6.46" fill="#a7c7ef"/>
<rect x="379.91" y="1743.92" width="24.01" height="25.85" fill="#a7c7ef"/>
<rect x="379.91" y="1724.53" width="24.01" height="12.92" fill="#a7c7ef"/>
<rect x="379.91" y="1705.15" width="24.01" height="12.92" fill="#a7c7ef"/>
<rect x="379.91" y="1692.22" width="24.01" height="6.46" fill="#a7c7ef"/>
<rect x="403.92" y="1750.38" width="24.01" height="19.39" fill="#a7c7ef"/>
<rect x="403.92" y="1711.61" width="24.01" height="32.31" fill="#a7c7ef"/>
<rect x="403.92" y="1685.76" width="24.01" height="6.46" fill="#a7c7ef"/>
<rect x="403.92" y="1653.45" width="24.01" height="12.92" fill="#a7c7ef"/>
<rect x="427.93" y="1847.31" width="24.01" height="6.46" fill="#a7c7ef"/>
<rect x="427.93" y="1840.84" width="24.01" height="6.46" fill="#3080be"/>
<rect x="427.93" y="1834.38" width="24.01" height="6.46" fill="#2a91d9"/>
<rect x="427.93" y="1827.92" width="24.01" height="6.46" fill="#a0c4ef"/>
<rect x="427.93" y="1815.00" width="24.01" height="6.46" fill="#a7c7ef"/>
<rect x="427.93" y="1776.23" width="24.01" height="6.46" fill="#a7c7ef"/>
<rect x="427.93" y="1750.38" width="24.01" height="6.46" fill="#a7c7ef"/>
<rect x="427.93" y="1711.61" width="24.01" height="6.46" fill="#a7c7ef"/>
<rect x="427.93" y="1685.76" width="24.01" height="12.92" fill="#a7c7ef"/>
<rect x="451.95" y="1834.38" width="24.01" height="12.92" fill="#a7c7ef"/>
<rect x="451.95" y="1808.54" width="24.01" height="6.46" fill="#a7c7ef"/>
<rect x="451.95" y="1789.15" width="24.01" height="6.46" fill="#a7c7ef"/>
<rect x="451.95" y="1692.22" width="24.01" height="6.46" fill="#a7c7ef"/>
<rect x="451.95" y="1640.53" width="24.01" height="6.46" fill="#a7c7ef"/>
<rect x="451.95" y="1621.14" width="24.01" height="6.46" fill="#a7c7ef"/>
<rect x="451.95" y="1608.22" width="24.01" height="6.46" fill="#a7c7ef"/>
<rect x="451.95" y="1453.13" width="24.01" height="6.46" fill="#a7c7ef"/>
<rect x="475.96" y="1840.84" width="24.01" height="6.46" fill="#a7c7ef"/>
<rect x="475.96" y="1834.38" width="24.01" height="6.46" fill="#3d5875"/>
<rect x="475.96" y="1821.46" width="24.01" height="12.92" fill="#a7c7ef"/>
<rect x="475.96" y="1782.69" width="24.01" height="12.92" fill="#a7c7ef"/>
<rect x="475.96" y="1776.23" width="24.01" height="6.46" fill="#8ebdf1"/>
<rect x="475.96" y="1769.76" width="24.01" height="6.46" fill="#3b6892"/>
<rect x="475.96" y="1763.30" width="24.01" height="6.46" fill="#a7c7ef"/>
<rect x="475.96" y="1737.45" width="24.01" height="6.46" fill="#a7c7ef"/>
<rect x="475.96" y="1705.15" width="24.01" height="6.46" fill="#a7c7ef"/>
<rect x="475.96" y="1659.91" width="24.01" height="12.92" fill="#a7c7ef"/>
<rect x="475.96" y="1640.53" width="24.01" height="6.46" fill="#a7c7ef"/>
<rect x="475.96" y="1575.91" width="24.01" height="51.70" fill="#a7c7ef"/>
<rect x="475.96" y="1556.52" width="24.01" height="12.92" fill="#a7c7ef"/>
<rect x="475.96" y="1543.60" width="24.01" height="6.46" fill="#a7c7ef"/>
<rect x="475.96" y="1517.75" width="24.01" height="6.46" fill="#a7c7ef"/>
<rect x="475.96" y="1485.44" width="24.01" height="6.46" fill="#a7c7ef"/>
<rect x="475.96" y="1472.52" width="24.01" height="6.46" fill="#a7c7ef"/>
<rect x="499.97" y="1821.46" width="24.01" height="19.39" fill="#a7c7ef"/>
<rect x="499.97" y="1769.76" width="24.01" height="6.46" fill="#a7c7ef"/>
<rect x="499.97" y="1756.84" width="24.01" height="6.46" fill="#a7c7ef"/>
<rect x="499.97" y="1737.45" width="24.01" height="6.46" fill="#a7c7ef"/>
<rect x="499.97" y="1679.30" width="24.01" height="6.46" fill="#a7c7ef"/>
<rect x="499.97" y="1666.37" width="24.01" height="6.46" fill="#a7c7ef"/>
<rect x="499.97" y="1646.99" width="24.01" height="12.92" fill="#a7c7ef"/>
<rect x="523.98" y="1834.38" width="24.01" height="6.46" fill="#2b99e6"/>
<rect x="523.98" y="1827.92" width="24.01" height="6.46" fill="#3a6b97"/>
<rect x="523.98" y="1821.46" width="24.01" height="6.46" fill="#a7c7ef"/>
<rect x="523.98" y="1802.07" width="24.01" height="6.46" fill="#a7c7ef"/>
<rect x="629.51" y="1847.31" width="27.44" height="6.46" fill="#a6c6ef"/>
<rect x="629.51" y="1840.84" width="27.44" height="6.46" fill="#62aff5"/>
<rect x="629.51" y="1834.38" width="27.44" height="6.46" fill="#3d5875"/>
<rect x="629.51" y="1827.92" width="27.44" height="6.46" fill="#39a7f7"/>
<rect x="629.51" y="1821.46" width="27.44" height="6.46" fill="#9cc2f0"/>
<rect x="629.51" y="1815.00" width="27.44" height="6.46" fill="#5faef6"/>
<rect x="629.51" y="1808.54" width="27.44" height="6.46" fill="#93bef1"/>
<rect x="629.51" y="1802.07" width="27.44" height="6.46" fill="#99c1f0"/>
<rect x="629.51" y="1776.23" width="27.44" height="25.85" fill="#a7c7ef"/>
<rect x="656.95" y="1840.84" width="27.44" height="6.46" fill="#a7c7ef"/>
<rect x="656.95" y="1834.38" width="27.44" height="6.46" fill="#a2c4ef"/>
<rect x="656.95" y="1827.92" width="27.44" height="6.46" fill="#54acf6"/>
<rect x="656.95" y="1821.46" width="27.44" height="6.46" fill="#2a92db"/>
<rect x="656.95" y="1815.00" width="27.44" height="6.46" fill="#3081c0"/>
<rect x="656.95" y="1808.54" width="27.44" height="6.46" fill="#7ab6f3"/>
<rect x="656.95" y="1802.07" width="27.44" height="6.46" fill="#a2c4ef"/>
<rect x="656.95" y="1711.61" width="27.44" height="90.47" fill="#a7c7ef"/>
<rect x="684.39" y="1834.38" width="27.44" height="19.39" fill="#a7c7ef"/>
<rect x="684.39" y="1815.00" width="27.44" height="12.92" fill="#a7c7ef"/>
<rect x="684.39" y="1795.61" width="27.44" height="6.46" fill="#a7c7ef"/>
<rect x="684.39" y="1750.38" width="27.44" height="38.77" fill="#a7c7ef"/>
<rect x="684.39" y="1711.61" width="27.44" height="32.31" fill="#a7c7ef"/>
<rect x="684.39" y="1685.76" width="27.44" height="19.39" fill="#a7c7ef"/>
<rect x="684.39" y="1659.91" width="27.44" height="6.46" fill="#a7c7ef"/>
<rect x="711.83" y="1763.30" width="27.44" height="19.39" fill="#a7c7ef"/>
<rect x="711.83" y="1730.99" width="27.44" height="6.46" fill="#a7c7ef"/>
<rect x="711.83" y="1698.68" width="27.44" height="19.39" fill="#a7c7ef"/>
<rect x="711.83" y="1679.30" width="27.44" height="6.46" fill="#a7c7ef"/>
<rect x="711.83" y="1666.37" width="27.44" height="6.46" fill="#a7c7ef"/>
<rect x="711.83" y="1653.45" width="27.44" height="6.46" fill="#a7c7ef"/>
<rect x="739.28" y="1763.30" width="27.44" height="19.39" fill="#a7c7ef"/>
<rect x="739.28" y="1743.92" width="27.44" height="6.46" fill="#a7c7ef"/>
<rect x="739.28" y="1730.99" width="27.44" height="6.46" fill="#a7c7ef"/>
<rect x="739.28" y="1685.76" width="27.44" height="12.92" fill="#a7c7ef"/>
<rect x="739.28" y="1640.53" width="27.44" height="12.92" fill="#a7c7ef"/>
<rect x="739.28" y="1621.14" width="27.44" height="6.46" fill="#a7c7ef"/>
<rect x="766.72" y="1743.92" width="27.44" height="12.92" fill="#a7c7ef"/>
<rect x="766.72" y="1679.30" width="27.44" height="6.46" fill="#a7c7ef"/>
<rect x="766.72" y="1653.45" width="27.44" height="6.46" fill="#a7c7ef"/>
<rect x="766.72" y="1601.75" width="27.44" height="6.46" fill="#a7c7ef"/>
<rect x="794.16" y="1827.92" width="27.44" height="6.46" fill="#a7c7ef"/>
<rect x="794.16" y="1795.61" width="27.44" height="6.46" fill="#a7c7ef"/>
<rect x="794.16" y="1763.30" width="27.44" height="12.92" fill="#a7c7ef"/>
<rect x="794.16" y="1724.53" width="27.44" height="6.46" fill="#a7c7ef"/>
<rect x="794.16" y="1608.22" width="27.44" height="6.46" fill="#a7c7ef"/>
<rect x="821.60" y="1730.99" width="27.44" height="6.46" fill="#a7c7ef"/>
<rect x="821.60" y="1679.30" width="27.44" height="45.23" fill="#a7c7ef"/>
<rect x="821.60" y="1659.91" width="27.44" height="12.92" fill="#a7c7ef"/>
<rect x="821.60" y="1517.75" width="27.44" height="6.46" fill="#a7c7ef"/>
<rect x="849.04" y="1769.76" width="27.44" height="6.46" fill="#a7c7ef"/>
<rect x="849.04" y="1692.22" width="27.44" height="64.62" fill="#a7c7ef"/>
<rect x="849.04" y="1672.84" width="27.44" height="6.46" fill="#a7c7ef"/>
<rect x="849.04" y="1653.45" width="27.44" height="12.92" fill="#a7c7ef"/>
<rect x="849.04" y="1608.22" width="27.44" height="25.85" fill="#a7c7ef"/>
<rect x="849.04" y="1595.29" width="27.44" height="6.46" fill="#a7c7ef"/>
<rect x="849.04" y="1485.44" width="27.44" height="6.46" fill="#a7c7ef"/>
<rect x="849.04" y="1472.52" width="27.44" height="6.46" fill="#a7c7ef"/>
<rect x="876.48" y="1789.15" width="27.44" height="19.39" fill="#a7c7ef"/>
<rect x="876.48" y="1666.37" width="27.44" height="25.85" fill="#a7c7ef"/>
<rect x="876.48" y="1627.60" width="27.44" height="12.92" fill="#a7c7ef"/>
<rect x="876.48" y="1595.29" width="27.44" height="6.46" fill="#a7c7ef"/>
<rect x="876.48" y="1575.91" width="27.44" height="12.92" fill="#a7c7ef"/>
<rect x="876.48" y="1517.75" width="27.44" height="6.46" fill="#a7c7ef"/>
<rect x="876.48" y="1504.83" width="27.44" height="6.46" fill="#a7c7ef"/>
<rect x="876.48" y="1491.90" width="27.44" height="6.46" fill="#a7c7ef"/>
<rect x="876.48" y="1453.13" width="27.44" height="6.46" fill="#a7c7ef"/>
<rect x="903.92" y="1730.99" width="27.44" height="6.46" fill="#a7c7ef"/>
<rect x="903.92" y="1711.61" width="27.44" height="6.46" fill="#a7c7ef"/>
<rect x="903.92" y="1646.99" width="27.44" height="12.92" fill="#a7c7ef"/>
<rect x="903.92" y="1608.22" width="27.44" height="19.39" fill="#a7c7ef"/>
<rect x="903.92" y="1595.29" width="27.44" height="6.46" fill="#a7c7ef"/>
<rect x="903.92" y="1517.75" width="27.44" height="71.08" fill="#a7c7ef"/>
<rect x="931.37" y="1698.68" width="27.44" height="19.39" fill="#a7c7ef"/>
<rect x="931.37" y="1685.76" width="27.44" height="6.46" fill="#9cc2f0"/>
<rect x="931.37" y="1679.30" width="27.44" height="6.46" fill="#5faef6"/>
<rect x="931.37" y="1672.84" width="27.44" height="6.46" fill="#a7c7ef"/>
<rect x="931.37" y="1640.53" width="27.44" height="12.92" fill="#a7c7ef"/>
<rect x="931.37" y="1582.37" width="27.44" height="51.70" fill="#a7c7ef"/>
<rect x="958.81" y="1705.15" width="27.44" height="6.46" fill="#a7c7ef"/>
<rect x="958.81" y="1685.76" width="27.44" height="6.46" fill="#9ec3f0"/>
<rect x="958.81" y="1679.30" width="27.44" height="6.46" fill="#8cbcf2"/>
<rect x="958.81" y="1659.91" width="27.44" height="12.92" fill="#a7c7ef"/>
<rect x="958.81" y="1646.99" width="27.44" height="6.46" fill="#a7c7ef"/>
<rect x="986.25" y="1776.23" width="27.44" height="6.46" fill="#a0c4ef"/>
<rect x="986.25" y="1769.76" width="27.44" height="6.46" fill="#33a5f6"/>
<rect x="986.25" y="1763.30" width="27.44" height="6.46" fill="#a0c4ef"/>
<rect x="986.25" y="1730.99" width="27.44" height="6.46" fill="#a0c4ef"/>
<rect x="986.25" y="1724.53" width="27.44" height="6.46" fill="#34a6f7"/>
<rect x="986.25" y="1718.07" width="27.44" height="6.46" fill="#a0c4ef"/>
<rect x="1095.71" y="1840.84" width="6.51" height="12.92" fill="#a7c7ef"/>
<rect x="1095.71" y="1821.46" width="6.51" height="6.46" fill="#a7c7ef"/>
<rect x="1102.22" y="1808.54" width="6.51" height="32.31" fill="#a7c7ef"/>
<rect x="1108.73" y="1847.31" width="6.51" height="6.46" fill="#a7c7ef"/>
<rect x="1108.73" y="1840.84" width="6.51" height="6.46" fill="#95bff1"/>
<rect x="1108.73" y="1808.54" width="6.51" height="32.31" fill="#a7c7ef"/>
<rect x="1108.73" y="1776.23" width="6.51" height="6.46" fill="#a7c7ef"/>
<rect x="1115.24" y="1840.84" width="6.51" height="6.46" fill="#a7c7ef"/>
<rect x="1115.24" y="1834.38" width="6.51" height="6.46" fill="#6fb2f5"/>
<rect x="1115.24" y="1795.61" width="6.51" height="38.77" fill="#a7c7ef"/>
<rect x="1121.76" y="1840.84" width="6.51" height="6.46" fill="#a7c7ef"/>
<rect x="1121.76" y="1834.38" width="6.51" height="6.46" fill="#3c638a"/>
<rect x="1121.76" y="1827.92" width="6.51" height="6.46" fill="#2a97e2"/>
<rect x="1121.76" y="1815.00" width="6.51" height="6.46" fill="#a2c4ef"/>
<rect x="1121.76" y="1789.15" width="6.51" height="25.85" fill="#a7c7ef"/>
<rect x="1121.76" y="1776.23" width="6.51" height="6.46" fill="#a7c7ef"/>
<rect x="1121.76" y="1730.99" width="6.51" height="6.46" fill="#a7c7ef"/>
<rect x="1121.76" y="1718.07" width="6.51" height="6.46" fill="#a7c7ef"/>
<rect x="1121.76" y="1698.68" width="6.51" height="6.46" fill="#a7c7ef"/>
<rect x="1128.27" y="1840.84" width="6.51" height="6.46" fill="#a7c7ef"/>
<rect x="1128.27" y="1834.38" width="6.51" height="6.46" fill="#a2c4ef"/>
<rect x="1128.27" y="1827.92" width="6.51" height="6.46" fill="#90bef1"/>
<rect x="1128.27" y="1815.00" width="6.51" height="12.92" fill="#a2c4ef"/>
<rect x="1128.27" y="1808.54" width="6.51" height="6.46" fill="#a0c4ef"/>
<rect x="1128.27" y="1789.15" width="6.51" height="19.39" fill="#a7c7ef"/>
<rect x="1128.27" y="1763.30" width="6.51" height="12.92" fill="#a7c7ef"/>
<rect x="1128.27" y="1724.53" width="6.51" height="12.92" fill="#a7c7ef"/>
<rect x="1128.27" y="1705.15" width="6.51" height="12.92" fill="#a7c7ef"/>
<rect x="1134.78" y="1834.38" width="6.51" height="6.46" fill="#a7c7ef"/>
<rect x="1134.78" y="1827.92" width="6.51" height="6.46" fill="#a0c4ef"/>
<rect x="1134.78" y="1821.46" width="6.51" height="6.46" fill="#2a93dc"/>
<rect x="1134.78" y="1815.00" width="6.51" height="6.46" fill="#a2c4ef"/>
<rect x="1134.78" y="1808.54" width="6.51" height="6.46" fill="#a0c4ef"/>
<rect x="1134.78" y="1795.61" width="6.51" height="12.92" fill="#a7c7ef"/>
<rect x="1134.78" y="1763.30" width="6.51" height="25.85" fill="#a7c7ef"/>
<rect x="1134.78" y="1679.30" width="6.51" height="19.39" fill="#a7c7ef"/>
<rect x="1141.29" y="1840.84" width="6.51" height="6.46" fill="#a7c7ef"/>
<rect x="1141.29" y="1827.92" width="6.51" height="6.46" fill="#a0c4ef"/>
<rect x="1141.29" y="1821.46" width="6.51" height="6.46" fill="#2a93dc"/>
<rect x="1141.29" y="1815.00" width="6.51" height="6.46" fill="#90bef1"/>
<rect x="1141.29" y="1808.54" width="6.51" height="6.46" fill="#a0c4ef"/>
<rect x="1141.29" y="1802.07" width="6.51" height="6.46" fill="#a2c4ef"/>
<rect x="1141.29" y="1795.61" width="6.51" height="6.46" fill="#a7c7ef"/>
<rect x="1141.29" y="1685.76" width="6.51" height="6.46" fill="#a7c7ef"/>
<rect x="1147.80" y="1840.84" width="6.51" height="6.46" fill="#a7c7ef"/>
<rect x="1147.80" y="1827.92" width="6.51" height="6.46" fill="#a0c4ef"/>
<rect x="1147.80" y="1821.46" width="6.51" height="6.46" fill="#33a5f6"/>
<rect x="1147.80" y="1815.00" width="6.51" height="6.46" fill="#2a90d8"/>
<rect x="1147.80" y="1808.54" width="6.51" height="6.46" fill="#a0c4ef"/>
<rect x="1147.80" y="1802.07" width="6.51" height="6.46" fill="#a2c4ef"/>
<rect x="1147.80" y="1776.23" width="6.51" height="19.39" fill="#a7c7ef"/>
<rect x="1147.80" y="1737.45" width="6.51" height="19.39" fill="#a7c7ef"/>
<rect x="1147.80" y="1730.99" width="6.51" height="6.46" fill="#72b3f4"/>
<rect x="1147.80" y="1711.61" width="6.51" height="6.46" fill="#a7c7ef"/>
<rect x="1154.31" y="1840.84" width="6.51" height="6.46" fill="#90bef1"/>
<rect x="1154.31" y="1834.38" width="6.51" height="6.46" fill="#2a90d8"/>
<rect x="1154.31" y="1827.92" width="6.51" height="6.46" fill="#2e85c6"/>
<rect x="1154.31" y="1821.46" width="6.51" height="6.46" fill="#39a7f7"/>
<rect x="1154.31" y="1815.00" width="6.51" height="6.46" fill="#2a90d8"/>
<rect x="1154.31" y="1808.54" width="6.51" height="6.46" fill="#a0c4ef"/>
<rect x="1154.31" y="1802.07" width="6.51" height="6.46" fill="#a2c4ef"/>
<rect x="1154.31" y="1789.15" width="6.51" height="12.92" fill="#a7c7ef"/>
<rect x="1154.31" y="1763.30" width="6.51" height="19.39" fill="#a7c7ef"/>
<rect x="1154.31" y="1743.92" width="6.51" height="6.46" fill="#a7c7ef"/>
<rect x="1154.31" y="1724.53" width="6.51" height="6.46" fill="#a7c7ef"/>
<rect x="1154.31" y="1698.68" width="6.51" height="19.39" fill="#a7c7ef"/>
<rect x="1154.31" y="1685.76" width="6.51" height="6.46" fill="#a7c7ef"/>
<rect x="1160.82" y="1847.31" width="6.51" height="6.46" fill="#a7c7ef"/>
<rect x="1160.82" y="1840.84" width="6.51" height="6.46" fill="#2a90d8"/>
<rect x="1160.82" y="1834.38" width="6.51" height="6.46" fill="#3d5875"/>
<rect x="1160.82" y="1827.92" width="6.51" height="6.46" fill="#9ec3f0"/>
<rect x="1160.82" y="1821.46" width="6.51" height="6.46" fill="#a0c4ef"/>
<rect x="1160.82" y="1815.00" width="6.51" height="6.46" fill="#3d5672"/>
<rect x="1160.82" y="1802.07" width="6.51" height="12.92" fill="#a2c4ef"/>
<rect x="1160.82" y="1776.23" width="6.51" height="12.92" fill="#a7c7ef"/>
<rect x="1160.82" y="1763.30" width="6.51" height="6.46" fill="#a7c7ef"/>
<rect x="1160.82" y="1743.92" width="6.51" height="12.92" fill="#a7c7ef"/>
<rect x="1160.82" y="1705.15" width="6.51" height="32.31" fill="#a7c7ef"/>
<rect x="1160.82" y="1666.37" width="6.51" height="6.46" fill="#a7c7ef"/>
<rect x="1167.34" y="1847.31" width="6.51" height="6.46" fill="#a7c7ef"/>
<rect x="1167.34" y="1840.84" width="6.51" height="6.46" fill="#6cb2f5"/>
<rect x="1167.34" y="1834.38" width="6.51" height="6.46" fill="#50abf7"/>
<rect x="1167.34" y="1815.00" width="6.51" height="19.39" fill="#a7c7ef"/>
<rect x="1167.34" y="1808.54" width="6.51" height="6.46" fill="#9cc2f0"/>
<rect x="1167.34" y="1802.07" width="6.51" height="6.46" fill="#97c0f0"/>
<rect x="1167.34" y="1769.76" width="6.51" height="25.85" fill="#a7c7ef"/>
<rect x="1167.34" y="1743.92" width="6.51" height="6.46" fill="#a7c7ef"/>
<rect x="1167.34" y="1698.68" width="6.51" height="25.85" fill="#a7c7ef"/>
<rect x="1167.34" y="1666.37" width="6.51" height="25.85" fill="#a7c7ef"/>
<rect x="1167.34" y="1575.91" width="6.51" height="6.46" fill="#a7c7ef"/>
<rect x="1173.85" y="1834.38" width="6.51" height="6.46" fill="#a7c7ef"/>
<rect x="1173.85" y="1808.54" width="6.51" height="6.46" fill="#9cc2f0"/>
<rect x="1173.85" y="1802.07" width="6.51" height="6.46" fill="#a2c4ef"/>
<rect x="1173.85" y="1776.23" width="6.51" height="25.85" fill="#a7c7ef"/>
<rect x="1173.85" y="1737.45" width="6.51" height="19.39" fill="#a7c7ef"/>
<rect x="1173.85" y="1711.61" width="6.51" height="6.46" fill="#a7c7ef"/>
<rect x="1173.85" y="1692.22" width="6.51" height="6.46" fill="#a7c7ef"/>
<rect x="1173.85" y="1672.84" width="6.51" height="6.46" fill="#a7c7ef"/>
<rect x="1173.85" y="1627.60" width="6.51" height="6.46" fill="#a7c7ef"/>
<rect x="1173.85" y="1595.29" width="6.51" height="6.46" fill="#a7c7ef"/>
<rect x="1180.36" y="1802.07" width="6.51" height="6.46" fill="#a7c7ef"/>
<rect x="1180.36" y="1776.23" width="6.51" height="19.39" fill="#a7c7ef"/>
<rect x="1180.36" y="1756.84" width="6.51" height="6.46" fill="#a7c7ef"/>
<rect x="1180.36" y="1743.92" width="6.51" height="6.46" fill="#a7c7ef"/>
<rect x="1180.36" y="1646.99" width="6.51" height="19.39" fill="#a7c7ef"/>
<rect x="1186.87" y="1808.54" width="6.51" height="6.46" fill="#a7c7ef"/>
<rect x="1186.87" y="1789.15" width="6.51" height="6.46" fill="#a7c7ef"/>
<rect x="1186.87" y="1756.84" width="6.51" height="19.39" fill="#a7c7ef"/>
<rect x="1186.87" y="1743.92" width="6.51" height="6.46" fill="#a7c7ef"/>
<rect x="1186.87" y="1711.61" width="6.51" height="6.46" fill="#a7c7ef"/>
<rect x="1186.87" y="1659.91" width="6.51" height="6.46" fill="#a7c7ef"/>
<rect x="1186.87" y="1646.99" width="6.51" height="6.46" fill="#a7c7ef"/>
<rect x="1193.38" y="1821.46" width="6.51" height="6.46" fill="#a7c7ef"/>
<rect x="1193.38" y="1776.23" width="6.51" height="12.92" fill="#a7c7ef"/>
<rect x="1193.38" y="1756.84" width="6.51" height="12.92" fill="#a7c7ef"/>
<rect x="1193.38" y="1737.45" width="6.51" height="6.46" fill="#a7c7ef"/>
<rect x="1193.38" y="1679.30" width="6.51" height="12.92" fill="#a7c7ef"/>
<rect x="1193.38" y="1659.91" width="6.51" height="6.46" fill="#a7c7ef"/>
<rect x="1199.89" y="1789.15" width="6.51" height="6.46" fill="#a7c7ef"/>
<rect x="1199.89" y="1776.23" width="6.51" height="6.46" fill="#a7c7ef"/>
<rect x="1199.89" y="1743.92" width="6.51" height="12.92" fill="#a7c7ef"/>
<rect x="1199.89" y="1666.37" width="6.51" height="6.46" fill="#a7c7ef"/>
<rect x="1199.89" y="1646.99" width="6.51" height="6.46" fill="#a7c7ef"/>
<rect x="1199.89" y="1634.06" width="6.51" height="6.46" fill="#a7c7ef"/>
<rect x="1206.41" y="1776.23" width="6.51" height="19.39" fill="#a7c7ef"/>
<rect x="1206.41" y="1763.30" width="6.51" height="6.46" fill="#a7c7ef"/>
<rect x="1206.41" y="1750.38" width="6.51" height="6.46" fill="#a7c7ef"/>
<rect x="1206.41" y="1737.45" width="6.51" height="6.46" fill="#a7c7ef"/>
<rect x="1206.41" y="1705.15" width="6.51" height="6.46" fill="#a7c7ef"/>
<rect x="1206.41" y="1692.22" width="6.51" height="6.46" fill="#a7c7ef"/>
<rect x="1206.41" y="1685.76" width="6.51" height="6.46" fill="#9cc2f0"/>
<rect x="1206.41" y="1679.30" width="6.51" height="6.46" fill="#2a91d9"/>
<rect x="1206.41" y="1672.84" width="6.51" height="6.46" fill="#a7c7ef"/>
<rect x="1206.41" y="1659.91" width="6.51" height="6.46" fill="#a7c7ef"/>
<rect x="1206.41" y="1608.22" width="6.51" height="19.39" fill="#a7c7ef"/>
<rect x="1206.41" y="1575.91" width="6.51" height="12.92" fill="#a7c7ef"/>
<rect x="1212.92" y="1763.30" width="6.51" height="12.92" fill="#a7c7ef"/>
<rect x="1212.92" y="1737.45" width="6.51" height="19.39" fill="#a7c7ef"/>
<rect x="1212.92" y="1724.53" width="6.51" height="6.46" fill="#a7c7ef"/>
<rect x="1212.92" y="1698.68" width="6.51" height="6.46" fill="#a7c7ef"/>
<rect x="1212.92" y="1672.84" width="6.51" height="19.39" fill="#a7c7ef"/>
<rect x="1212.92" y="1614.68" width="6.51" height="6.46" fill="#a7c7ef"/>
<rect x="1212.92" y="1595.29" width="6.51" height="6.46" fill="#a7c7ef"/>
<rect x="1212.92" y="1575.91" width="6.51" height="6.46" fill="#a7c7ef"/>
<rect x="1219.43" y="1789.15" width="6.51" height="6.46" fill="#a7c7ef"/>
<rect x="1219.43" y="1763.30" width="6.51" height="6.46" fill="#a7c7ef"/>
<rect x="1219.43" y="1724.53" width="6.51" height="32.31" fill="#a7c7ef"/>
<rect x="1219.43" y="1627.60" width="6.51" height="6.46" fill="#a7c7ef"/>
<rect x="1225.94" y="1769.76" width="6.51" height="6.46" fill="#93bef1"/>
<rect x="1225.94" y="1750.38" width="6.51" height="12.92" fill="#97c0f0"/>
<rect x="1225.94" y="1711.61" width="6.51" height="6.46" fill="#a7c7ef"/>
<rect x="1225.94" y="1608.22" width="6.51" height="12.92" fill="#a7c7ef"/>
<rect x="1232.45" y="1763.30" width="6.51" height="6.46" fill="#a7c7ef"/>
<rect x="1232.45" y="1724.53" width="6.51" height="6.46" fill="#a7c7ef"/>
<rect x="1232.45" y="1653.45" width="6.51" height="6.46" fill="#a7c7ef"/>
<rect x="1232.45" y="1614.68" width="6.51" height="12.92" fill="#a7c7ef"/>
<rect x="1238.96" y="1769.76" width="6.51" height="6.46" fill="#a7c7ef"/>
<rect x="1238.96" y="1750.38" width="6.51" height="6.46" fill="#a7c7ef"/>
<rect x="1238.96" y="1711.61" width="6.51" height="6.46" fill="#a7c7ef"/>
<rect x="1245.47" y="1789.15" width="6.51" height="6.46" fill="#a7c7ef"/>
<rect x="1245.47" y="1756.84" width="6.51" height="19.39" fill="#a7c7ef"/>
<rect x="1245.47" y="1743.92" width="6.51" height="6.46" fill="#a7c7ef"/>
<rect x="1245.47" y="1711.61" width="6.51" height="12.92" fill="#a7c7ef"/>
<rect x="1245.47" y="1595.29" width="6.51" height="6.46" fill="#a7c7ef"/>
<rect x="1245.47" y="1517.75" width="6.51" height="6.46" fill="#a7c7ef"/>
<rect x="1251.99" y="1763.30" width="6.51" height="6.46" fill="#a7c7ef"/>
<rect x="1251.99" y="1743.92" width="6.51" height="12.92" fill="#a7c7ef"/>
<rect x="1251.99" y="1724.53" width="6.51" height="12.92" fill="#a7c7ef"/>
<rect x="1251.99" y="1711.61" width="6.51" height="6.46" fill="#a7c7ef"/>
<rect x="1251.99" y="1692.22" width="6.51" height="6.46" fill="#a7c7ef"/>
<rect x="1251.99" y="1659.91" width="6.51" height="6.46" fill="#a7c7ef"/>
<rect x="1251.99" y="1595.29" width="6.51" height="6.46" fill="#a7c7ef"/>
<rect x="1251.99" y="1485.44" width="6.51" height="6.46" fill="#a7c7ef"/>
<rect x="1258.50" y="1776.23" width="6.51" height="6.46" fill="#a7c7ef"/>
<rect x="1258.50" y="1763.30" width="6.51" height="6.46" fill="#a7c7ef"/>
<rect x="1258.50" y="1718.07" width="6.51" height="12.92" fill="#a7c7ef"/>
<rect x="1258.50" y="1679.30" width="6.51" height="6.46" fill="#90bef1"/>
<rect x="1265.01" y="1743.92" width="6.51" height="25.85" fill="#a7c7ef"/>
<rect x="1265.01" y="1724.53" width="6.51" height="12.92" fill="#a7c7ef"/>
<rect x="1265.01" y="1666.37" width="6.51" height="6.46" fill="#a7c7ef"/>
<rect x="1265.01" y="1562.98" width="6.51" height="6.46" fill="#a7c7ef"/>
<rect x="1271.52" y="1737.45" width="6.51" height="12.92" fill="#99c1f0"/>
<rect x="1278.03" y="1769.76" width="6.51" height="6.46" fill="#97c0f0"/>
<rect x="1278.03" y="1763.30" width="6.51" height="6.46" fill="#a0c4ef"/>
<rect x="1278.03" y="1750.38" width="6.51" height="6.46" fill="#a7c7ef"/>
<rect x="1278.03" y="1724.53" width="6.51" height="12.92" fill="#a7c7ef"/>
<rect x="1278.03" y="1705.15" width="6.51" height="6.46" fill="#a7c7ef"/>
<rect x="1278.03" y="1543.60" width="6.51" height="6.46" fill="#a7c7ef"/>
<rect x="1284.54" y="1776.23" width="6.51" height="6.46" fill="#8ebdf1"/>
<rect x="1284.54" y="1769.76" width="6.51" height="6.46" fill="#396d9c"/>
<rect x="1284.54" y="1763.30" width="6.51" height="6.46" fill="#a0c4ef"/>
<rect x="1284.54" y="1750.38" width="6.51" height="6.46" fill="#a7c7ef"/>
<rect x="1284.54" y="1705.15" width="6.51" height="6.46" fill="#a7c7ef"/>
<rect x="1284.54" y="1666.37" width="6.51" height="6.46" fill="#a7c7ef"/>
<rect x="1284.54" y="1595.29" width="6.51" height="32.31" fill="#a7c7ef"/>
<rect x="1284.54" y="1582.37" width="6.51" height="6.46" fill="#a7c7ef"/>
<rect x="1284.54" y="1543.60" width="6.51" height="6.46" fill="#a7c7ef"/>
<rect x="1291.06" y="1776.23" width="6.51" height="6.46" fill="#8ebdf1"/>
<rect x="1291.06" y="1769.76" width="6.51" height="6.46" fill="#95bff1"/>
<rect x="1291.06" y="1685.76" width="6.51" height="6.46" fill="#a7c7ef"/>
<rect x="1291.06" y="1659.91" width="6.51" height="6.46" fill="#a7c7ef"/>
<rect x="1291.06" y="1640.53" width="6.51" height="6.46" fill="#a7c7ef"/>
<rect x="1291.06" y="1588.83" width="6.51" height="6.46" fill="#a7c7ef"/>
<rect x="1291.06" y="1575.91" width="6.51" height="6.46" fill="#a7c7ef"/>
<rect x="1291.06" y="1556.52" width="6.51" height="12.92" fill="#a7c7ef"/>
<rect x="1297.57" y="1724.53" width="6.51" height="6.46" fill="#a7c7ef"/>
<rect x="1304.08" y="1724.53" width="6.51" height="6.46" fill="#a7c7ef"/>
<rect x="1304.08" y="1711.61" width="6.51" height="6.46" fill="#a7c7ef"/>
<rect x="1304.08" y="1679.30" width="6.51" height="12.92" fill="#a7c7ef"/>
<rect x="1304.08" y="1608.22" width="6.51" height="6.46" fill="#a7c7ef"/>
<rect x="1304.08" y="1517.75" width="6.51" height="6.46" fill="#a7c7ef"/>
<rect x="1310.59" y="1776.23" width="6.51" height="6.46" fill="#a7c7ef"/>
<rect x="1310.59" y="1679.30" width="6.51" height="12.92" fill="#a7c7ef"/>
<rect x="1310.59" y="1588.83" width="6.51" height="6.46" fill="#a7c7ef"/>
<rect x="1317.10" y="1724.53" width="6.51" height="12.92" fill="#a7c7ef"/>
<rect x="1317.10" y="1679.30" width="6.51" height="12.92" fill="#a7c7ef"/>
<rect x="1317.10" y="1614.68" width="6.51" height="6.46" fill="#a7c7ef"/>
<rect x="1317.10" y="1601.75" width="6.51" height="6.46" fill="#a7c7ef"/>
<rect x="1317.10" y="1582.37" width="6.51" height="12.92" fill="#a7c7ef"/>
<rect x="1317.10" y="1562.98" width="6.51" height="6.46" fill="#a7c7ef"/>
<rect x="1317.10" y="1524.21" width="6.51" height="6.46" fill="#a7c7ef"/>
<rect x="1323.61" y="1730.99" width="6.51" height="6.46" fill="#a7c7ef"/>
<rect x="1323.61" y="1614.68" width="6.51" height="6.46" fill="#a7c7ef"/>
<rect x="1323.61" y="1582.37" width="6.51" height="6.46" fill="#a7c7ef"/>
<rect x="1330.13" y="1679.30" width="6.51" height="25.85" fill="#a7c7ef"/>
<rect x="1330.13" y="1653.45" width="6.51" height="6.46" fill="#a7c7ef"/>
<rect x="1330.13" y="1614.68" width="6.51" height="6.46" fill="#a7c7ef"/>
<rect x="1330.13" y="1582.37" width="6.51" height="6.46" fill="#a7c7ef"/>
<rect x="1330.13" y="1537.14" width="6.51" height="6.46" fill="#a7c7ef"/>
<rect x="1336.64" y="1685.76" width="6.51" height="6.46" fill="#97c0f0"/>
<rect x="1336.64" y="1679.30" width="6.51" height="6.46" fill="#3fa8f7"/>
<rect x="1336.64" y="1614.68" width="6.51" height="6.46" fill="#a7c7ef"/>
<rect x="1336.64" y="1530.67" width="6.51" height="6.46" fill="#a7c7ef"/>
<rect x="1336.64" y="1472.52" width="6.51" height="6.46" fill="#a7c7ef"/>
<rect x="1343.15" y="1711.61" width="6.51" height="6.46" fill="#a7c7ef"/>
<rect x="1343.15" y="1685.76" width="6.51" height="6.46" fill="#97c0f0"/>
<rect x="1343.15" y="1679.30" width="6.51" height="6.46" fill="#95bff1"/>
<rect x="1343.15" y="1601.75" width="6.51" height="12.92" fill="#a7c7ef"/>
<rect x="1343.15" y="1588.83" width="6.51" height="6.46" fill="#87baf2"/>
<rect x="1343.15" y="1582.37" width="6.51" height="6.46" fill="#77b5f4"/>
<rect x="1343.15" y="1530.67" width="6.51" height="6.46" fill="#a7c7ef"/>
<rect x="1343.15" y="1517.75" width="6.51" height="6.46" fill="#a7c7ef"/>
<rect x="1349.66" y="1711.61" width="6.51" height="6.46" fill="#a7c7ef"/>
<rect x="1349.66" y="1601.75" width="6.51" height="12.92" fill="#a7c7ef"/>
<rect x="1349.66" y="1582.37" width="6.51" height="6.46" fill="#93bef1"/>
<rect x="1349.66" y="1575.91" width="6.51" height="6.46" fill="#a0c4ef"/>
<rect x="1349.66" y="1562.98" width="6.51" height="6.46" fill="#a7c7ef"/>
<rect x="1349.66" y="1543.60" width="6.51" height="6.46" fill="#a7c7ef"/>
<rect x="1356.17" y="1724.53" width="6.51" height="6.46" fill="#a0c4ef"/>
<rect x="1356.17" y="1685.76" width="6.51" height="6.46" fill="#a7c7ef"/>
<rect x="1356.17" y="1640.53" width="6.51" height="6.46" fill="#a7c7ef"/>
<rect x="1356.17" y="1530.67" width="6.51" height="6.46" fill="#a7c7ef"/>
<rect x="1362.68" y="1730.99" width="6.51" height="6.46" fill="#9cc2f0"/>
<rect x="1362.68" y="1724.53" width="6.51" height="6.46" fill="#3577ad"/>
<rect x="1362.68" y="1718.07" width="6.51" height="6.46" fill="#9ec3f0"/>
<rect x="1362.68" y="1537.14" width="6.51" height="6.46" fill="#a7c7ef"/>
<rect x="1362.68" y="1453.13" width="6.51" height="6.46" fill="#a7c7ef"/>
<rect x="1369.19" y="1730.99" width="6.51" height="6.46" fill="#9cc2f0"/>
<rect x="1369.19" y="1724.53" width="6.51" height="6.46" fill="#99c1f0"/>
<rect x="1369.19" y="1627.60" width="6.51" height="6.46" fill="#a7c7ef"/>
<rect x="1369.19" y="1537.14" width="6.51" height="6.46" fill="#a7c7ef"/>
<rect x="1369.19" y="1504.83" width="6.51" height="6.46" fill="#a7c7ef"/>
<rect x="1375.71" y="1659.91" width="6.51" height="6.46" fill="#a7c7ef"/>
<rect x="1375.71" y="1621.14" width="6.51" height="12.92" fill="#a7c7ef"/>
<rect x="1375.71" y="1504.83" width="6.51" height="6.46" fill="#a7c7ef"/>
<rect x="1382.22" y="1627.60" width="6.51" height="6.46" fill="#a7c7ef"/>
<rect x="1382.22" y="1588.83" width="6.51" height="6.46" fill="#a7c7ef"/>
<rect x="1388.73" y="1530.67" width="6.51" height="6.46" fill="#a7c7ef"/>
<rect x="1395.24" y="1621.14" width="6.51" height="6.46" fill="#a7c7ef"/>
<rect x="1401.75" y="1646.99" width="6.51" height="6.46" fill="#93bef1"/>
<rect x="1401.75" y="1640.53" width="6.51" height="6.46" fill="#a7c7ef"/>
<rect x="1401.75" y="1569.45" width="6.51" height="6.46" fill="#a7c7ef"/>
<rect x="1401.75" y="1550.06" width="6.51" height="6.46" fill="#a7c7ef"/>
<rect x="1408.26" y="1646.99" width="6.51" height="6.46" fill="#8cbcf2"/>
<rect x="1408.26" y="1640.53" width="6.51" height="6.46" fill="#a7c7ef"/>
<rect x="1408.26" y="1627.60" width="6.51" height="6.46" fill="#a7c7ef"/>
<rect x="1408.26" y="1588.83" width="6.51" height="6.46" fill="#a7c7ef"/>
<rect x="1414.78" y="1640.53" width="6.51" height="6.46" fill="#a7c7ef"/>
<rect x="1414.78" y="1575.91" width="6.51" height="6.46" fill="#a7c7ef"/>
<rect x="1421.29" y="1627.60" width="6.51" height="6.46" fill="#a7c7ef"/>
<rect x="1421.29" y="1524.21" width="6.51" height="6.46" fill="#a7c7ef"/>
<rect x="1427.80" y="1627.60" width="6.51" height="6.46" fill="#a7c7ef"/>
<rect x="1453.84" y="1491.90" width="6.51" height="6.46" fill="#a7c7ef"/>
<rect x="1460.36" y="1575.91" width="6.51" height="6.46" fill="#a7c7ef"/>
<rect x="1473.38" y="1537.14" width="6.51" height="6.46" fill="#a7c7ef"/>
</g>
<g stroke="#000" stroke-width="2.22" stroke-linecap="square" fill="none">
<path d="M144.00 475.80H566.60"/>
<path d="M144.00 941.80H566.60"/>
<path d="M144.00 501.10V941.80"/>
<path d="M610.30 941.80H1032.90"/>
<path d="M144.00 1407.80H566.60"/>
<path d="M144.00 967.10V1407.80"/>
<path d="M610.30 1407.80H1032.90"/>
<path d="M610.30 967.10V1407.80"/>
<path d="M1076.50 1407.80H1499.10"/>
<path d="M144.00 1873.80H566.60"/>
<path d="M144.00 1433.10V1873.80"/>
<path d="M610.30 1873.80H1032.90"/>
<path d="M610.30 1433.10V1873.80"/>
<path d="M1076.50 1873.80H1499.10"/>
<path d="M1076.50 1433.10V1873.80"/>
<path d="M1542.70 1873.80H1965.30"/>
</g>
<g fill="#5799c7" stroke="#0a2540" stroke-width="1" shape-rendering="crispEdges">
<rect x="163.81" y="415.40" width="7.68" height="60.40"/>
<rect x="171.49" y="293.20" width="7.68" height="182.60"/>
<rect x="179.18" y="363.40" width="7.68" height="112.40"/>
<rect x="186.86" y="423.40" width="7.68" height="52.40"/>
<rect x="194.54" y="320.40" width="7.68" height="155.40"/>
<rect x="202.23" y="452.40" width="7.68" height="23.40"/>
<rect x="209.91" y="373.30" width="7.68" height="102.50"/>
<rect x="217.59" y="451.50" width="7.68" height="24.30"/>
<rect x="225.28" y="360.40" width="7.68" height="115.40"/>
<rect x="232.96" y="402.30" width="7.68" height="73.50"/>
<rect x="240.65" y="261.40" width="7.68" height="214.40"/>
<rect x="248.33" y="390.40" width="7.68" height="85.40"/>
<rect x="256.01" y="472.30" width="7.68" height="3.50"/>
<rect x="263.70" y="474.30" width="7.68" height="1.50"/>
<rect x="317.48" y="474.80" width="7.68" height="1.00"/>
<rect x="325.17" y="474.80" width="7.68" height="1.00"/>
<rect x="332.85" y="467.50" width="7.68" height="8.30"/>
<rect x="340.53" y="457.40" width="7.68" height="18.40"/>
<rect x="348.22" y="468.40" width="7.68" height="7.40"/>
<rect x="355.90" y="365.30" width="7.68" height="110.50"/>
<rect x="402.00" y="474.60" width="7.68" height="1.20"/>
<rect x="425.05" y="474.60" width="7.68" height="1.20"/>
<rect x="440.42" y="338.40" width="7.68" height="137.40"/>
<rect x="455.79" y="474.60" width="7.68" height="1.20"/>
<rect x="486.52" y="197.40" width="7.68" height="278.40"/>
<rect x="494.21" y="470.40" width="7.68" height="5.40"/>
<rect x="524.94" y="334.50" width="7.68" height="141.30"/>
<rect x="629.51" y="548.50" width="7.68" height="393.30"/>
<rect x="637.19" y="895.30" width="7.68" height="46.50"/>
<rect x="644.88" y="881.30" width="7.68" height="60.50"/>
<rect x="652.56" y="624.40" width="7.68" height="317.40"/>
<rect x="660.24" y="798.50" width="7.68" height="143.30"/>
<rect x="667.93" y="784.20" width="7.68" height="157.60"/>
<rect x="675.61" y="752.20" width="7.68" height="189.60"/>
<rect x="683.29" y="903.50" width="7.68" height="38.30"/>
<rect x="690.98" y="938.50" width="7.68" height="3.30"/>
<rect x="698.66" y="939.40" width="7.68" height="2.40"/>
<rect x="706.35" y="940.50" width="7.68" height="1.30"/>
<rect x="721.71" y="940.80" width="7.68" height="1.00"/>
<rect x="806.23" y="940.60" width="7.68" height="1.20"/>
<rect x="836.97" y="938.30" width="7.68" height="3.50"/>
<rect x="844.65" y="940.30" width="7.68" height="1.50"/>
<rect x="852.33" y="936.60" width="7.68" height="5.20"/>
<rect x="860.02" y="938.60" width="7.68" height="3.20"/>
<rect x="867.70" y="931.60" width="7.68" height="10.20"/>
<rect x="875.39" y="937.60" width="7.68" height="4.20"/>
<rect x="883.07" y="927.50" width="7.68" height="14.30"/>
<rect x="898.44" y="936.60" width="7.68" height="5.20"/>
<rect x="906.12" y="936.60" width="7.68" height="5.20"/>
<rect x="913.80" y="937.60" width="7.68" height="4.20"/>
<rect x="921.49" y="917.60" width="7.68" height="24.20"/>
<rect x="929.17" y="885.60" width="7.68" height="56.20"/>
<rect x="936.85" y="922.60" width="7.68" height="19.20"/>
<rect x="944.54" y="858.50" width="7.68" height="83.30"/>
<rect x="952.22" y="925.50" width="7.68" height="16.30"/>
<rect x="959.91" y="939.60" width="7.68" height="2.20"/>
<rect x="967.59" y="862.50" width="7.68" height="79.30"/>
<rect x="975.27" y="940.60" width="7.68" height="1.20"/>
<rect x="990.64" y="835.40" width="7.68" height="106.40"/>
<rect x="1006.01" y="820.30" width="7.68" height="121.50"/>
<rect x="1095.71" y="1403.60" width="7.68" height="4.20"/>
<rect x="1103.39" y="1373.80" width="7.68" height="34.00"/>
<rect x="1111.08" y="1367.90" width="7.68" height="39.90"/>
<rect x="1118.76" y="1210.90" width="7.68" height="196.90"/>
<rect x="1126.44" y="1351.80" width="7.68" height="56.00"/>
<rect x="1134.13" y="1314.80" width="7.68" height="93.00"/>
<rect x="1141.81" y="1287.70" width="7.68" height="120.10"/>
<rect x="1149.49" y="1211.90" width="7.68" height="195.90"/>
<rect x="1157.18" y="1033.60" width="7.68" height="374.20"/>
<rect x="1164.86" y="1154.00" width="7.68" height="253.80"/>
<rect x="1172.55" y="1378.90" width="7.68" height="28.90"/>
<rect x="1180.23" y="1401.90" width="7.68" height="5.90"/>
<rect x="1187.91" y="1404.60" width="7.68" height="3.20"/>
<rect x="1195.60" y="1405.50" width="7.68" height="2.30"/>
<rect x="1203.28" y="1355.80" width="7.68" height="52.00"/>
<rect x="1210.96" y="1375.80" width="7.68" height="32.00"/>
<rect x="1218.65" y="1404.80" width="7.68" height="3.00"/>
<rect x="1226.33" y="1405.50" width="7.68" height="2.30"/>
<rect x="1234.01" y="1407.30" width="7.68" height="0.50"/>
<rect x="1241.70" y="1405.70" width="7.68" height="2.10"/>
<rect x="1249.38" y="1405.60" width="7.68" height="2.20"/>
<rect x="1257.07" y="1406.40" width="7.68" height="1.40"/>
<rect x="1264.75" y="1400.60" width="7.68" height="7.20"/>
<rect x="1272.43" y="1407.20" width="7.68" height="0.60"/>
<rect x="1280.12" y="1365.60" width="7.68" height="42.20"/>
<rect x="1287.80" y="1311.50" width="7.68" height="96.30"/>
<rect x="1295.48" y="1407.20" width="7.68" height="0.60"/>
<rect x="1303.17" y="1402.40" width="7.68" height="5.40"/>
<rect x="1310.85" y="1404.40" width="7.68" height="3.40"/>
<rect x="1318.53" y="1392.30" width="7.68" height="15.50"/>
<rect x="1326.22" y="1402.40" width="7.68" height="5.40"/>
<rect x="1333.90" y="1367.60" width="7.68" height="40.20"/>
<rect x="1341.59" y="1360.30" width="7.68" height="47.50"/>
<rect x="1349.27" y="1385.50" width="7.68" height="22.30"/>
<rect x="1356.95" y="1403.50" width="7.68" height="4.30"/>
<rect x="1364.64" y="1304.30" width="7.68" height="103.50"/>
<rect x="1372.32" y="1403.50" width="7.68" height="4.30"/>
<rect x="1380.00" y="1403.50" width="7.68" height="4.30"/>
<rect x="1403.05" y="1395.30" width="7.68" height="12.50"/>
<rect x="1410.74" y="1400.40" width="7.68" height="7.40"/>
<rect x="1418.42" y="1406.50" width="7.68" height="1.30"/>
<rect x="1561.91" y="1848.20" width="7.68" height="25.60"/>
<rect x="1569.59" y="1677.70" width="7.68" height="196.10"/>
<rect x="1577.28" y="1454.50" width="7.68" height="419.30"/>
<rect x="1584.96" y="1643.90" width="7.68" height="229.90"/>
<rect x="1592.64" y="1547.70" width="7.68" height="326.10"/>
<rect x="1600.33" y="1765.50" width="7.68" height="108.30"/>
<rect x="1608.01" y="1856.30" width="7.68" height="17.50"/>
<rect x="1615.69" y="1861.50" width="7.68" height="12.30"/>
<rect x="1623.38" y="1868.70" width="7.68" height="5.10"/>
<rect x="1631.06" y="1788.50" width="7.68" height="85.30"/>
<rect x="1638.75" y="1826.50" width="7.68" height="47.30"/>
<rect x="1646.43" y="1869.80" width="7.68" height="4.00"/>
<rect x="1654.11" y="1866.80" width="7.68" height="7.00"/>
<rect x="1661.80" y="1861.70" width="7.68" height="12.10"/>
<rect x="1669.48" y="1860.50" width="7.68" height="13.30"/>
<rect x="1677.16" y="1750.60" width="7.68" height="123.20"/>
<rect x="1684.85" y="1870.50" width="7.68" height="3.30"/>
<rect x="1692.53" y="1864.50" width="7.68" height="9.30"/>
<rect x="1700.21" y="1866.60" width="7.68" height="7.20"/>
<rect x="1707.90" y="1871.70" width="7.68" height="2.10"/>
<rect x="1715.58" y="1841.40" width="7.68" height="32.40"/>
<rect x="1723.27" y="1757.60" width="7.68" height="116.20"/>
<rect x="1730.95" y="1863.50" width="7.68" height="10.30"/>
<rect x="1738.63" y="1868.30" width="7.68" height="5.50"/>
<rect x="1746.32" y="1872.30" width="7.68" height="1.50"/>
<rect x="1754.00" y="1858.40" width="7.68" height="15.40"/>
<rect x="1761.68" y="1871.40" width="7.68" height="2.40"/>
<rect x="1769.37" y="1870.30" width="7.68" height="3.50"/>
<rect x="1777.05" y="1864.40" width="7.68" height="9.40"/>
<rect x="1784.73" y="1859.40" width="7.68" height="14.40"/>
<rect x="1792.42" y="1866.30" width="7.68" height="7.50"/>
<rect x="1807.79" y="1861.30" width="7.68" height="12.50"/>
<rect x="1815.47" y="1841.40" width="7.68" height="32.40"/>
<rect x="1823.15" y="1867.30" width="7.68" height="6.50"/>
<rect x="1830.84" y="1871.40" width="7.68" height="2.40"/>
<rect x="1838.52" y="1871.40" width="7.68" height="2.40"/>
<rect x="1861.57" y="1870.40" width="7.68" height="3.40"/>
</g>
<g stroke="#000" stroke-width="2.22" fill="none">
<path d="M161.10 475.80v9.72"/>
<path d="M357.10 475.80v9.72"/>
<path d="M553.10 475.80v9.72"/>
<path d="M161.10 941.80v9.72"/>
<path d="M357.10 941.80v9.72"/>
<path d="M553.10 941.80v9.72"/>
<path d="M144.00 927.80h-9.72"/>
<path d="M144.00 839.50h-9.72"/>
<path d="M144.00 751.30h-9.72"/>
<path d="M144.00 663.00h-9.72"/>
<path d="M144.00 574.80h-9.72"/>
<path d="M624.00 941.80v9.72"/>
<path d="M835.80 941.80v9.72"/>
<path d="M161.10 1407.80v9.72"/>
<path d="M357.10 1407.80v9.72"/>
<path d="M553.10 1407.80v9.72"/>
<path d="M144.00 1398.10h-9.72"/>
<path d="M144.00 1329.80h-9.72"/>
<path d="M144.00 1261.50h-9.72"/>
<path d="M144.00 1193.20h-9.72"/>
<path d="M144.00 1124.90h-9.72"/>
<path d="M144.00 1056.60h-9.72"/>
<path d="M144.00 988.20h-9.72"/>
<path d="M624.00 1407.80v9.72"/>
<path d="M835.80 1407.80v9.72"/>
<path d="M610.30 1398.10h-9.72"/>
<path d="M610.30 1329.80h-9.72"/>
<path d="M610.30 1261.50h-9.72"/>
<path d="M610.30 1193.20h-9.72"/>
<path d="M610.30 1124.90h-9.72"/>
<path d="M610.30 1056.60h-9.72"/>
<path d="M610.30 988.20h-9.72"/>
<path d="M1085.80 1407.80v9.72"/>
<path d="M1216.80 1407.80v9.72"/>
<path d="M1347.80 1407.80v9.72"/>
<path d="M1478.80 1407.80v9.72"/>
<path d="M161.10 1873.80v9.72"/>
<path d="M357.10 1873.80v9.72"/>
<path d="M553.10 1873.80v9.72"/>
<path d="M144.00 1861.80h-9.72"/>
<path d="M144.00 1758.90h-9.72"/>
<path d="M144.00 1656.10h-9.72"/>
<path d="M144.00 1553.30h-9.72"/>
<path d="M144.00 1450.50h-9.72"/>
<path d="M624.00 1873.80v9.72"/>
<path d="M835.80 1873.80v9.72"/>
<path d="M610.30 1861.80h-9.72"/>
<path d="M610.30 1758.90h-9.72"/>
<path d="M610.30 1656.10h-9.72"/>
<path d="M610.30 1553.30h-9.72"/>
<path d="M610.30 1450.50h-9.72"/>
<path d="M1085.80 1873.80v9.72"/>
<path d="M1216.80 1873.80v9.72"/>
<path d="M1347.80 1873.80v9.72"/>
<path d="M1478.80 1873.80v9.72"/>
<path d="M1076.50 1861.80h-9.72"/>
<path d="M1076.50 1758.90h-9.72"/>
<path d="M1076.50 1656.10h-9.72"/>
<path d="M1076.50 1553.30h-9.72"/>
<path d="M1076.50 1450.50h-9.72"/>
<path d="M1553.40 1873.80v9.72"/>
<path d="M1676.60 1873.80v9.72"/>
<path d="M1799.80 1873.80v9.72"/>
<path d="M1923.10 1873.80v9.72"/>
</g>
<g style="opacity:0.999">
<text x="161.10" y="1916.90" font-size="30.80" text-anchor="middle" textLength="46.45" lengthAdjust="spacingAndGlyphs">0.0</text>
<text x="357.10" y="1916.90" font-size="30.80" text-anchor="middle" textLength="46.45" lengthAdjust="spacingAndGlyphs">0.5</text>
<text x="553.10" y="1916.90" font-size="30.80" text-anchor="middle" textLength="46.45" lengthAdjust="spacingAndGlyphs">1.0</text>
<text x="624.00" y="1916.90" font-size="30.80" text-anchor="middle" textLength="46.45" lengthAdjust="spacingAndGlyphs">0.0</text>
<text x="835.80" y="1916.90" font-size="30.80" text-anchor="middle" textLength="46.45" lengthAdjust="spacingAndGlyphs">0.5</text>
<text x="1085.80" y="1916.90" font-size="30.80" text-anchor="middle" textLength="46.45" lengthAdjust="spacingAndGlyphs">0.0</text>
<text x="1216.80" y="1916.90" font-size="30.80" text-anchor="middle" textLength="46.45" lengthAdjust="spacingAndGlyphs">0.2</text>
<text x="1347.80" y="1916.90" font-size="30.80" text-anchor="middle" textLength="46.45" lengthAdjust="spacingAndGlyphs">0.4</text>
<text x="1478.80" y="1916.90" font-size="30.80" text-anchor="middle" textLength="46.45" lengthAdjust="spacingAndGlyphs">0.6</text>
<text x="1553.40" y="1916.90" font-size="30.80" text-anchor="middle" textLength="65.04" lengthAdjust="spacingAndGlyphs">0.00</text>
<text x="1676.60" y="1916.90" font-size="30.80" text-anchor="middle" textLength="65.04" lengthAdjust="spacingAndGlyphs">0.25</text>
<text x="1799.80" y="1916.90" font-size="30.80" text-anchor="middle" textLength="65.04" lengthAdjust="spacingAndGlyphs">0.50</text>
<text x="1923.10" y="1916.90" font-size="30.80" text-anchor="middle" textLength="65.04" lengthAdjust="spacingAndGlyphs">0.75</text>
<text x="124.80" y="938.70" font-size="30.80" text-anchor="end" textLength="46.45" lengthAdjust="spacingAndGlyphs">0.0</text>
<text x="124.80" y="850.40" font-size="30.80" text-anchor="end" textLength="46.45" lengthAdjust="spacingAndGlyphs">0.2</text>
<text x="124.80" y="762.20" font-size="30.80" text-anchor="end" textLength="46.45" lengthAdjust="spacingAndGlyphs">0.4</text>
<text x="124.80" y="673.90" font-size="30.80" text-anchor="end" textLength="46.45" lengthAdjust="spacingAndGlyphs">0.6</text>
<text x="124.80" y="585.70" font-size="30.80" text-anchor="end" textLength="46.45" lengthAdjust="spacingAndGlyphs">0.8</text>
<text x="124.80" y="1409.00" font-size="30.80" text-anchor="end" textLength="46.45" lengthAdjust="spacingAndGlyphs">0.0</text>
<text x="124.80" y="1340.70" font-size="30.80" text-anchor="end" textLength="46.45" lengthAdjust="spacingAndGlyphs">0.1</text>
<text x="124.80" y="1272.40" font-size="30.80" text-anchor="end" textLength="46.45" lengthAdjust="spacingAndGlyphs">0.2</text>
<text x="124.80" y="1204.10" font-size="30.80" text-anchor="end" textLength="46.45" lengthAdjust="spacingAndGlyphs">0.3</text>
<text x="124.80" y="1135.80" font-size="30.80" text-anchor="end" textLength="46.45" lengthAdjust="spacingAndGlyphs">0.4</text>
<text x="124.80" y="1067.50" font-size="30.80" text-anchor="end" textLength="46.45" lengthAdjust="spacingAndGlyphs">0.5</text>
<text x="124.80" y="999.10" font-size="30.80" text-anchor="end" textLength="46.45" lengthAdjust="spacingAndGlyphs">0.6</text>
<text x="124.80" y="1872.70" font-size="30.80" text-anchor="end" textLength="46.45" lengthAdjust="spacingAndGlyphs">0.0</text>
<text x="124.80" y="1769.80" font-size="30.80" text-anchor="end" textLength="46.45" lengthAdjust="spacingAndGlyphs">0.2</text>
<text x="124.80" y="1667.00" font-size="30.80" text-anchor="end" textLength="46.45" lengthAdjust="spacingAndGlyphs">0.4</text>
<text x="124.80" y="1564.20" font-size="30.80" text-anchor="end" textLength="46.45" lengthAdjust="spacingAndGlyphs">0.6</text>
<text x="124.80" y="1461.40" font-size="30.80" text-anchor="end" textLength="46.45" lengthAdjust="spacingAndGlyphs">0.8</text>
<text x="357.10" y="1956.60" font-size="30.80" text-anchor="middle" textLength="17.32" lengthAdjust="spacingAndGlyphs">x</text>
<text x="821.90" y="1956.60" font-size="30.80" text-anchor="middle" textLength="17.32" lengthAdjust="spacingAndGlyphs">y</text>
<text x="1288.40" y="1956.60" font-size="30.80" text-anchor="middle" textLength="80.66" lengthAdjust="spacingAndGlyphs">width</text>
<text x="1754.00" y="1956.60" font-size="30.80" text-anchor="middle" textLength="93.31" lengthAdjust="spacingAndGlyphs">height</text>
<text transform="translate(58.40 722.85) rotate(-90)" font-size="30.80" text-anchor="middle" textLength="17.32" lengthAdjust="spacingAndGlyphs">y</text>
<text transform="translate(60.00 1189.95) rotate(-90)" font-size="30.80" text-anchor="middle" textLength="80.66" lengthAdjust="spacingAndGlyphs">width</text>
<text transform="translate(60.20 1657.35) rotate(-90)" font-size="30.80" text-anchor="middle" textLength="94.43" lengthAdjust="spacingAndGlyphs">height</text>
</g>
</svg></body></html>
